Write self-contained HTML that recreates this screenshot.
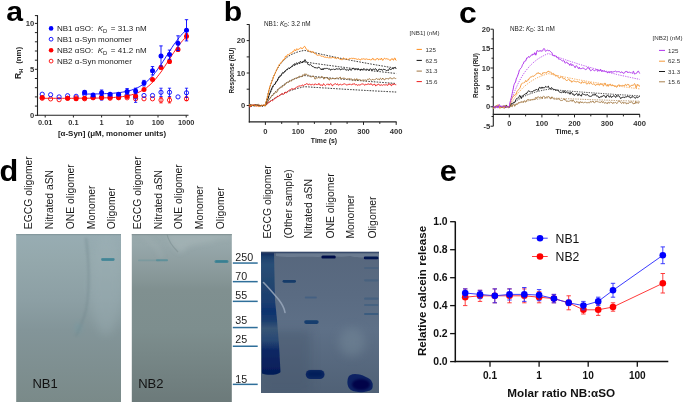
<!DOCTYPE html>
<html><head><meta charset="utf-8"><style>
html,body{margin:0;padding:0;background:#fff;}
body{width:685px;height:402px;overflow:hidden;}
svg{display:block;font-family:"Liberation Sans", sans-serif;filter:blur(0.25px);}
</style></head><body>
<svg width="685" height="402" viewBox="0 0 685 402">
<rect width="685" height="402" fill="#fff"/>
<text transform="translate(6.2,20.8) scale(1.06,1)" font-size="28.5" font-weight="bold" fill="#000">a</text>
<line x1="37.5" y1="15.1" x2="37.5" y2="115.8" stroke="#222" stroke-width="1.1" />
<line x1="37" y1="115.3" x2="188.5" y2="115.3" stroke="#222" stroke-width="1.1" />
<line x1="34.9" y1="115.3" x2="37.5" y2="115.3" stroke="#222" stroke-width="1" />
<line x1="34.9" y1="106.1" x2="37.5" y2="106.1" stroke="#222" stroke-width="1" />
<line x1="34.9" y1="96.9" x2="37.5" y2="96.9" stroke="#222" stroke-width="1" />
<line x1="34.9" y1="87.7" x2="37.5" y2="87.7" stroke="#222" stroke-width="1" />
<line x1="34.9" y1="78.5" x2="37.5" y2="78.5" stroke="#222" stroke-width="1" />
<line x1="34.9" y1="69.3" x2="37.5" y2="69.3" stroke="#222" stroke-width="1" />
<line x1="34.9" y1="60.2" x2="37.5" y2="60.2" stroke="#222" stroke-width="1" />
<line x1="34.9" y1="51" x2="37.5" y2="51" stroke="#222" stroke-width="1" />
<line x1="34.9" y1="41.8" x2="37.5" y2="41.8" stroke="#222" stroke-width="1" />
<line x1="34.9" y1="32.6" x2="37.5" y2="32.6" stroke="#222" stroke-width="1" />
<line x1="34.9" y1="23.4" x2="37.5" y2="23.4" stroke="#222" stroke-width="1" />
<line x1="34.9" y1="15.6" x2="37.5" y2="15.6" stroke="#222" stroke-width="1" />
<text x="34.3" y="117.9" font-size="7.6" font-weight="bold" text-anchor="end" fill="#333" >0</text>
<text x="34.3" y="71.9" font-size="7.6" font-weight="bold" text-anchor="end" fill="#333" >5</text>
<text x="34.3" y="26" font-size="7.6" font-weight="bold" text-anchor="end" fill="#333" >10</text>
<line x1="45.2" y1="115.3" x2="45.2" y2="117.5" stroke="#222" stroke-width="1" />
<text x="45.2" y="124.9" font-size="7.4" font-weight="bold" text-anchor="middle" fill="#333" >0.01</text>
<line x1="73.4" y1="115.3" x2="73.4" y2="117.5" stroke="#222" stroke-width="1" />
<text x="73.4" y="124.9" font-size="7.4" font-weight="bold" text-anchor="middle" fill="#333" >0.1</text>
<line x1="101.6" y1="115.3" x2="101.6" y2="117.5" stroke="#222" stroke-width="1" />
<text x="101.6" y="124.9" font-size="7.4" font-weight="bold" text-anchor="middle" fill="#333" >1</text>
<line x1="129.8" y1="115.3" x2="129.8" y2="117.5" stroke="#222" stroke-width="1" />
<text x="129.8" y="124.9" font-size="7.4" font-weight="bold" text-anchor="middle" fill="#333" >10</text>
<line x1="158" y1="115.3" x2="158" y2="117.5" stroke="#222" stroke-width="1" />
<text x="158" y="124.9" font-size="7.4" font-weight="bold" text-anchor="middle" fill="#333" >100</text>
<line x1="186.2" y1="115.3" x2="186.2" y2="117.5" stroke="#222" stroke-width="1" />
<text x="186.2" y="124.9" font-size="7.4" font-weight="bold" text-anchor="middle" fill="#333" >1000</text>
<text x="112" y="135.6" font-size="7.95" font-weight="bold" text-anchor="middle" fill="#222" >[α-Syn] (μM, monomer units)</text>
<text transform="translate(21.2,79) rotate(-90)" font-size="8.6" font-weight="bold" fill="#222">R<tspan font-size="5.4" dy="1.4">H</tspan></text>
<text transform="translate(21.2,63.8) rotate(-90)" font-size="7.9" font-weight="bold" fill="#222" textLength="17" lengthAdjust="spacingAndGlyphs">(nm)</text>
<polyline points="42.5,98.3 44.3,98.3 46.1,98.3 47.9,98.3 49.8,98.3 51.6,98.3 53.4,98.3 55.2,98.3 57.1,98.3 58.9,98.3 60.7,98.3 62.5,98.3 64.3,98.3 66.2,98.3 68,98.3 69.8,98.3 71.6,98.3 73.5,98.3 75.3,98.3 77.1,98.3 78.9,98.2 80.8,98.2 82.6,98.2 84.4,98.2 86.2,98.2 88,98.2 89.9,98.2 91.7,98.2 93.5,98.1 95.3,98.1 97.2,98.1 99,98 100.8,98 102.6,98 104.5,97.9 106.3,97.8 108.1,97.8 109.9,97.7 111.7,97.6 113.6,97.5 115.4,97.3 117.2,97.2 119,97 120.9,96.8 122.7,96.6 124.5,96.3 126.3,96 128.2,95.6 130,95.2 131.8,94.8 133.6,94.2 135.4,93.6 137.3,92.9 139.1,92.1 140.9,91.2 142.7,90.2 144.6,89 146.4,87.8 148.2,86.3 150,84.8 151.9,83 153.7,81.1 155.5,79.1 157.3,76.8 159.1,74.5 161,72 162.8,69.3 164.6,66.6 166.4,63.8 168.3,61 170.1,58.2 171.9,55.3 173.7,52.6 175.6,49.9 177.4,47.3 179.2,44.8 181,42.5 182.8,40.4 184.7,38.4 186.5,36.5" fill="none" stroke="#ff0000" stroke-width="0.9" stroke-linejoin="round" />
<polyline points="82.6,94.1 84.4,94.1 86.2,94.1 88,94 89.9,94 91.7,94 93.5,94 95.3,93.9 97.2,93.9 99,93.9 100.8,93.8 102.6,93.8 104.5,93.7 106.3,93.6 108.1,93.5 109.9,93.4 111.7,93.3 113.6,93.2 115.4,93 117.2,92.8 119,92.6 120.9,92.4 122.7,92.1 124.5,91.8 126.3,91.4 128.2,91 130,90.5 131.8,90 133.6,89.3 135.4,88.6 137.3,87.8 139.1,86.9 140.9,85.8 142.7,84.7 144.6,83.4 146.4,81.9 148.2,80.3 150,78.5 151.9,76.6 153.7,74.5 155.5,72.2 157.3,69.8 159.1,67.2 161,64.6 162.8,61.8 164.6,59 166.4,56.1 168.3,53.3 170.1,50.4 171.9,47.6 173.7,44.9 175.6,42.3 177.4,39.9 179.2,37.5 181,35.4 182.8,33.4 184.7,31.5 186.5,29.8" fill="none" stroke="#0000ff" stroke-width="0.9" stroke-linejoin="round" />
<circle cx="42.2" cy="98.3" r="2.1" fill="none" stroke="#ff0000" stroke-width="0.9"/>
<circle cx="50.6" cy="98.9" r="2.1" fill="none" stroke="#ff0000" stroke-width="0.9"/>
<circle cx="59.1" cy="99.7" r="2.1" fill="none" stroke="#ff0000" stroke-width="0.9"/>
<circle cx="67.6" cy="98.3" r="2.1" fill="none" stroke="#ff0000" stroke-width="0.9"/>
<circle cx="76.1" cy="97.8" r="2.1" fill="none" stroke="#ff0000" stroke-width="0.9"/>
<circle cx="84.6" cy="98.8" r="2.1" fill="none" stroke="#ff0000" stroke-width="0.9"/>
<circle cx="93.1" cy="97.8" r="2.1" fill="none" stroke="#ff0000" stroke-width="0.9"/>
<circle cx="101.6" cy="96.9" r="2.1" fill="none" stroke="#ff0000" stroke-width="0.9"/>
<circle cx="110.1" cy="98.3" r="2.1" fill="none" stroke="#ff0000" stroke-width="0.9"/>
<circle cx="118.6" cy="97.8" r="2.1" fill="none" stroke="#ff0000" stroke-width="0.9"/>
<circle cx="127.1" cy="97.8" r="2.1" fill="none" stroke="#ff0000" stroke-width="0.9"/>
<circle cx="135.6" cy="98.8" r="2.1" fill="none" stroke="#ff0000" stroke-width="0.9"/>
<circle cx="144" cy="98.8" r="2.1" fill="none" stroke="#ff0000" stroke-width="0.9"/>
<circle cx="152.5" cy="98.8" r="2.1" fill="none" stroke="#ff0000" stroke-width="0.9"/>
<line x1="161" y1="102.9" x2="161" y2="97.4" stroke="#ff0000" stroke-width="0.8" />
<line x1="159.4" y1="102.9" x2="162.6" y2="102.9" stroke="#ff0000" stroke-width="0.8" />
<line x1="159.4" y1="97.4" x2="162.6" y2="97.4" stroke="#ff0000" stroke-width="0.8" />
<circle cx="161" cy="100.1" r="2.1" fill="none" stroke="#ff0000" stroke-width="0.9"/>
<line x1="169.5" y1="102.9" x2="169.5" y2="97.4" stroke="#ff0000" stroke-width="0.8" />
<line x1="167.9" y1="102.9" x2="171.1" y2="102.9" stroke="#ff0000" stroke-width="0.8" />
<line x1="167.9" y1="97.4" x2="171.1" y2="97.4" stroke="#ff0000" stroke-width="0.8" />
<circle cx="169.5" cy="100.1" r="2.1" fill="none" stroke="#ff0000" stroke-width="0.9"/>
<line x1="186.5" y1="100.6" x2="186.5" y2="96.9" stroke="#ff0000" stroke-width="0.8" />
<line x1="184.9" y1="100.6" x2="188.1" y2="100.6" stroke="#ff0000" stroke-width="0.8" />
<line x1="184.9" y1="96.9" x2="188.1" y2="96.9" stroke="#ff0000" stroke-width="0.8" />
<circle cx="186.5" cy="98.8" r="2.1" fill="none" stroke="#ff0000" stroke-width="0.9"/>
<circle cx="42.2" cy="94.2" r="2.1" fill="none" stroke="#0000ff" stroke-width="0.9"/>
<circle cx="50.6" cy="94.7" r="2.1" fill="none" stroke="#0000ff" stroke-width="0.9"/>
<circle cx="59.1" cy="96.9" r="2.1" fill="none" stroke="#0000ff" stroke-width="0.9"/>
<circle cx="67.6" cy="95.7" r="2.1" fill="none" stroke="#0000ff" stroke-width="0.9"/>
<circle cx="76.1" cy="96.3" r="2.1" fill="none" stroke="#0000ff" stroke-width="0.9"/>
<circle cx="84.6" cy="94.2" r="2.1" fill="none" stroke="#0000ff" stroke-width="0.9"/>
<circle cx="93.1" cy="96.9" r="2.1" fill="none" stroke="#0000ff" stroke-width="0.9"/>
<line x1="101.6" y1="100.1" x2="101.6" y2="94.6" stroke="#0000ff" stroke-width="0.8" />
<line x1="100" y1="100.1" x2="103.2" y2="100.1" stroke="#0000ff" stroke-width="0.8" />
<line x1="100" y1="94.6" x2="103.2" y2="94.6" stroke="#0000ff" stroke-width="0.8" />
<circle cx="101.6" cy="97.4" r="2.1" fill="none" stroke="#0000ff" stroke-width="0.9"/>
<circle cx="110.1" cy="96" r="2.1" fill="none" stroke="#0000ff" stroke-width="0.9"/>
<circle cx="118.6" cy="95.1" r="2.1" fill="none" stroke="#0000ff" stroke-width="0.9"/>
<circle cx="127.1" cy="95.1" r="2.1" fill="none" stroke="#0000ff" stroke-width="0.9"/>
<line x1="135.6" y1="102.4" x2="135.6" y2="91.4" stroke="#0000ff" stroke-width="0.8" />
<line x1="134" y1="102.4" x2="137.2" y2="102.4" stroke="#0000ff" stroke-width="0.8" />
<line x1="134" y1="91.4" x2="137.2" y2="91.4" stroke="#0000ff" stroke-width="0.8" />
<circle cx="135.6" cy="96.9" r="2.1" fill="none" stroke="#0000ff" stroke-width="0.9"/>
<circle cx="144" cy="95.5" r="2.1" fill="none" stroke="#0000ff" stroke-width="0.9"/>
<circle cx="152.5" cy="95.5" r="2.1" fill="none" stroke="#0000ff" stroke-width="0.9"/>
<line x1="161" y1="96.5" x2="161" y2="88.2" stroke="#0000ff" stroke-width="0.8" />
<line x1="159.4" y1="96.5" x2="162.6" y2="96.5" stroke="#0000ff" stroke-width="0.8" />
<line x1="159.4" y1="88.2" x2="162.6" y2="88.2" stroke="#0000ff" stroke-width="0.8" />
<circle cx="161" cy="92.3" r="2.1" fill="none" stroke="#0000ff" stroke-width="0.9"/>
<line x1="169.5" y1="96.5" x2="169.5" y2="88.2" stroke="#0000ff" stroke-width="0.8" />
<line x1="167.9" y1="96.5" x2="171.1" y2="96.5" stroke="#0000ff" stroke-width="0.8" />
<line x1="167.9" y1="88.2" x2="171.1" y2="88.2" stroke="#0000ff" stroke-width="0.8" />
<circle cx="169.5" cy="92.3" r="2.1" fill="none" stroke="#0000ff" stroke-width="0.9"/>
<circle cx="178" cy="96.9" r="2.1" fill="none" stroke="#0000ff" stroke-width="0.9"/>
<line x1="186.5" y1="97.4" x2="186.5" y2="88.2" stroke="#0000ff" stroke-width="0.8" />
<line x1="184.9" y1="97.4" x2="188.1" y2="97.4" stroke="#0000ff" stroke-width="0.8" />
<line x1="184.9" y1="88.2" x2="188.1" y2="88.2" stroke="#0000ff" stroke-width="0.8" />
<circle cx="186.5" cy="92.8" r="2.1" fill="none" stroke="#0000ff" stroke-width="0.9"/>
<circle cx="42.2" cy="97.4" r="2.5" fill="#ff0000"/>
<circle cx="67.6" cy="98.3" r="2.5" fill="#ff0000"/>
<circle cx="76.1" cy="98.8" r="2.5" fill="#ff0000"/>
<circle cx="84.6" cy="98.3" r="2.5" fill="#ff0000"/>
<circle cx="93.1" cy="97.4" r="2.5" fill="#ff0000"/>
<circle cx="101.6" cy="97.8" r="2.5" fill="#ff0000"/>
<circle cx="110.1" cy="97.4" r="2.5" fill="#ff0000"/>
<circle cx="118.6" cy="97.4" r="2.5" fill="#ff0000"/>
<circle cx="127.1" cy="96.5" r="2.5" fill="#ff0000"/>
<circle cx="135.6" cy="96" r="2.5" fill="#ff0000"/>
<circle cx="144" cy="89.6" r="2.5" fill="#ff0000"/>
<circle cx="152.5" cy="79.5" r="2.5" fill="#ff0000"/>
<line x1="161" y1="68.9" x2="161" y2="66.1" stroke="#ff0000" stroke-width="0.8" />
<line x1="159.4" y1="68.9" x2="162.6" y2="68.9" stroke="#ff0000" stroke-width="0.8" />
<line x1="159.4" y1="66.1" x2="162.6" y2="66.1" stroke="#ff0000" stroke-width="0.8" />
<circle cx="161" cy="67.5" r="2.5" fill="#ff0000"/>
<line x1="169.5" y1="63.4" x2="169.5" y2="59.7" stroke="#ff0000" stroke-width="0.8" />
<line x1="167.9" y1="63.4" x2="171.1" y2="63.4" stroke="#ff0000" stroke-width="0.8" />
<line x1="167.9" y1="59.7" x2="171.1" y2="59.7" stroke="#ff0000" stroke-width="0.8" />
<circle cx="169.5" cy="61.5" r="2.5" fill="#ff0000"/>
<line x1="178" y1="51.4" x2="178" y2="47.8" stroke="#ff0000" stroke-width="0.8" />
<line x1="176.4" y1="51.4" x2="179.6" y2="51.4" stroke="#ff0000" stroke-width="0.8" />
<line x1="176.4" y1="47.8" x2="179.6" y2="47.8" stroke="#ff0000" stroke-width="0.8" />
<circle cx="178" cy="49.6" r="2.5" fill="#ff0000"/>
<line x1="186.5" y1="39" x2="186.5" y2="33.5" stroke="#ff0000" stroke-width="0.8" />
<line x1="184.9" y1="39" x2="188.1" y2="39" stroke="#ff0000" stroke-width="0.8" />
<line x1="184.9" y1="33.5" x2="188.1" y2="33.5" stroke="#ff0000" stroke-width="0.8" />
<circle cx="186.5" cy="36.3" r="2.5" fill="#ff0000"/>
<line x1="84.6" y1="94.2" x2="84.6" y2="90.5" stroke="#0000ff" stroke-width="0.9" />
<line x1="82.9" y1="94.2" x2="86.3" y2="94.2" stroke="#0000ff" stroke-width="0.9" />
<line x1="82.9" y1="90.5" x2="86.3" y2="90.5" stroke="#0000ff" stroke-width="0.9" />
<circle cx="84.6" cy="92.3" r="2.5" fill="#0000ff"/>
<circle cx="93.1" cy="95.1" r="2.5" fill="#0000ff"/>
<line x1="101.6" y1="95.5" x2="101.6" y2="90" stroke="#0000ff" stroke-width="0.9" />
<line x1="99.9" y1="95.5" x2="103.3" y2="95.5" stroke="#0000ff" stroke-width="0.9" />
<line x1="99.9" y1="90" x2="103.3" y2="90" stroke="#0000ff" stroke-width="0.9" />
<circle cx="101.6" cy="92.8" r="2.5" fill="#0000ff"/>
<circle cx="110.1" cy="94.2" r="2.5" fill="#0000ff"/>
<circle cx="118.6" cy="94.2" r="2.5" fill="#0000ff"/>
<line x1="127.1" y1="94.2" x2="127.1" y2="88.6" stroke="#0000ff" stroke-width="0.9" />
<line x1="125.4" y1="94.2" x2="128.8" y2="94.2" stroke="#0000ff" stroke-width="0.9" />
<line x1="125.4" y1="88.6" x2="128.8" y2="88.6" stroke="#0000ff" stroke-width="0.9" />
<circle cx="127.1" cy="91.4" r="2.5" fill="#0000ff"/>
<line x1="135.6" y1="93.7" x2="135.6" y2="88.2" stroke="#0000ff" stroke-width="0.9" />
<line x1="133.9" y1="93.7" x2="137.3" y2="93.7" stroke="#0000ff" stroke-width="0.9" />
<line x1="133.9" y1="88.2" x2="137.3" y2="88.2" stroke="#0000ff" stroke-width="0.9" />
<circle cx="135.6" cy="90.9" r="2.5" fill="#0000ff"/>
<line x1="144" y1="85.9" x2="144" y2="80.4" stroke="#0000ff" stroke-width="0.9" />
<line x1="142.3" y1="85.9" x2="145.7" y2="85.9" stroke="#0000ff" stroke-width="0.9" />
<line x1="142.3" y1="80.4" x2="145.7" y2="80.4" stroke="#0000ff" stroke-width="0.9" />
<circle cx="144" cy="83.1" r="2.5" fill="#0000ff"/>
<line x1="152.5" y1="74.9" x2="152.5" y2="66.6" stroke="#0000ff" stroke-width="0.9" />
<line x1="150.8" y1="74.9" x2="154.2" y2="74.9" stroke="#0000ff" stroke-width="0.9" />
<line x1="150.8" y1="66.6" x2="154.2" y2="66.6" stroke="#0000ff" stroke-width="0.9" />
<circle cx="152.5" cy="70.7" r="2.5" fill="#0000ff"/>
<line x1="161" y1="66.1" x2="161" y2="45.9" stroke="#0000ff" stroke-width="0.9" />
<line x1="159.3" y1="66.1" x2="162.7" y2="66.1" stroke="#0000ff" stroke-width="0.9" />
<line x1="159.3" y1="45.9" x2="162.7" y2="45.9" stroke="#0000ff" stroke-width="0.9" />
<circle cx="161" cy="56" r="2.5" fill="#0000ff"/>
<line x1="169.5" y1="59.2" x2="169.5" y2="50.1" stroke="#0000ff" stroke-width="0.9" />
<line x1="167.8" y1="59.2" x2="171.2" y2="59.2" stroke="#0000ff" stroke-width="0.9" />
<line x1="167.8" y1="50.1" x2="171.2" y2="50.1" stroke="#0000ff" stroke-width="0.9" />
<circle cx="169.5" cy="54.6" r="2.5" fill="#0000ff"/>
<line x1="178" y1="50.5" x2="178" y2="35.8" stroke="#0000ff" stroke-width="0.9" />
<line x1="176.3" y1="50.5" x2="179.7" y2="50.5" stroke="#0000ff" stroke-width="0.9" />
<line x1="176.3" y1="35.8" x2="179.7" y2="35.8" stroke="#0000ff" stroke-width="0.9" />
<circle cx="178" cy="43.2" r="2.5" fill="#0000ff"/>
<line x1="186.5" y1="40.9" x2="186.5" y2="19.7" stroke="#0000ff" stroke-width="0.9" />
<line x1="184.8" y1="40.9" x2="188.2" y2="40.9" stroke="#0000ff" stroke-width="0.9" />
<line x1="184.8" y1="19.7" x2="188.2" y2="19.7" stroke="#0000ff" stroke-width="0.9" />
<circle cx="186.5" cy="30.3" r="2.5" fill="#0000ff"/>
<circle cx="51.1" cy="28.4" r="2.3" fill="#0000ff"/>
<circle cx="51.1" cy="39.2" r="1.9" fill="none" stroke="#0000ff" stroke-width="0.9"/>
<circle cx="51.1" cy="50.2" r="2.3" fill="#ff0000"/>
<circle cx="51.1" cy="61.1" r="1.9" fill="none" stroke="#ff0000" stroke-width="0.9"/>
<text x="57" y="31.3" font-size="8.0" font-weight="normal" text-anchor="start" fill="#222" >NB1 αSO: <tspan dx="2.3" font-style="italic">K</tspan><tspan font-size="5.8" dy="1.6">D</tspan><tspan dy="-1.6" dx="3.6">= 31.3 nM</tspan></text>
<text x="57" y="42.1" font-size="8.0" font-weight="normal" text-anchor="start" fill="#222" >NB1 α-Syn monomer</text>
<text x="57" y="53.1" font-size="8.0" font-weight="normal" text-anchor="start" fill="#222" >NB2 αSO: <tspan dx="2.3" font-style="italic">K</tspan><tspan font-size="5.8" dy="1.6">D</tspan><tspan dy="-1.6" dx="3.6">= 41.2 nM</tspan></text>
<text x="57" y="64" font-size="8.0" font-weight="normal" text-anchor="start" fill="#222" >NB2 α-Syn monomer</text>
<text transform="translate(223.8,21.0) scale(1.06,1)" font-size="28.5" font-weight="bold" fill="#000">b</text>
<line x1="249.3" y1="24.3" x2="249.3" y2="122.4" stroke="#222" stroke-width="1.1" />
<line x1="248.8" y1="121.9" x2="396.6" y2="121.9" stroke="#222" stroke-width="1.1" />
<line x1="246.7" y1="105.5" x2="249.3" y2="105.5" stroke="#222" stroke-width="1" />
<line x1="246.7" y1="89.2" x2="249.3" y2="89.2" stroke="#222" stroke-width="1" />
<line x1="246.7" y1="73" x2="249.3" y2="73" stroke="#222" stroke-width="1" />
<line x1="246.7" y1="56.9" x2="249.3" y2="56.9" stroke="#222" stroke-width="1" />
<line x1="246.7" y1="40.6" x2="249.3" y2="40.6" stroke="#222" stroke-width="1" />
<line x1="246.7" y1="24.5" x2="249.3" y2="24.5" stroke="#222" stroke-width="1" />
<text x="245.2" y="108" font-size="7.6" font-weight="bold" text-anchor="end" fill="#333" >0</text>
<text x="245.2" y="75.6" font-size="7.6" font-weight="bold" text-anchor="end" fill="#333" >10</text>
<text x="245.2" y="43.2" font-size="7.6" font-weight="bold" text-anchor="end" fill="#333" >20</text>
<line x1="265.4" y1="121.9" x2="265.4" y2="124.9" stroke="#222" stroke-width="1" />
<line x1="281.7" y1="121.9" x2="281.7" y2="123.9" stroke="#222" stroke-width="1" />
<line x1="298.1" y1="121.9" x2="298.1" y2="124.9" stroke="#222" stroke-width="1" />
<line x1="314.4" y1="121.9" x2="314.4" y2="123.9" stroke="#222" stroke-width="1" />
<line x1="330.8" y1="121.9" x2="330.8" y2="124.9" stroke="#222" stroke-width="1" />
<line x1="347.1" y1="121.9" x2="347.1" y2="123.9" stroke="#222" stroke-width="1" />
<line x1="363.5" y1="121.9" x2="363.5" y2="124.9" stroke="#222" stroke-width="1" />
<line x1="379.8" y1="121.9" x2="379.8" y2="123.9" stroke="#222" stroke-width="1" />
<line x1="396.2" y1="121.9" x2="396.2" y2="124.9" stroke="#222" stroke-width="1" />
<text x="265.4" y="133.9" font-size="7.6" font-weight="bold" text-anchor="middle" fill="#333" >0</text>
<text x="298.1" y="133.9" font-size="7.6" font-weight="bold" text-anchor="middle" fill="#333" >100</text>
<text x="330.8" y="133.9" font-size="7.6" font-weight="bold" text-anchor="middle" fill="#333" >200</text>
<text x="363.5" y="133.9" font-size="7.6" font-weight="bold" text-anchor="middle" fill="#333" >300</text>
<text x="396.2" y="133.9" font-size="7.6" font-weight="bold" text-anchor="middle" fill="#333" >400</text>
<text x="324" y="142.6" font-size="6.9" font-weight="bold" text-anchor="middle" fill="#222" >Time  (s)</text>
<text transform="translate(234.1,70.6) rotate(-90)" font-size="6.9" font-weight="bold" text-anchor="middle" fill="#222" textLength="46" lengthAdjust="spacingAndGlyphs">Response (RU)</text>
<text x="264" y="26.1" font-size="6.4" font-weight="normal" text-anchor="start" fill="#222" >NB1: <tspan font-style="italic">K</tspan><tspan font-size="4.6" dy="1.2">D</tspan><tspan dy="-1.2">: 3.2 nM</tspan></text>
<text x="409.6" y="35.1" font-size="6.2" font-weight="normal" text-anchor="start" fill="#333" >[NB1] (nM)</text>
<line x1="416.6" y1="49.4" x2="421.9" y2="49.4" stroke="#ff8c1a" stroke-width="1" />
<text x="425.5" y="51.6" font-size="6.2" font-weight="normal" text-anchor="start" fill="#333" >125</text>
<line x1="416.6" y1="60.4" x2="421.9" y2="60.4" stroke="#111111" stroke-width="1" />
<text x="425.5" y="62.6" font-size="6.2" font-weight="normal" text-anchor="start" fill="#333" >62.5</text>
<line x1="416.6" y1="71.1" x2="421.9" y2="71.1" stroke="#a07540" stroke-width="1" />
<text x="425.5" y="73.3" font-size="6.2" font-weight="normal" text-anchor="start" fill="#333" >31.3</text>
<line x1="416.6" y1="81.6" x2="421.9" y2="81.6" stroke="#f01c1c" stroke-width="1" />
<text x="425.5" y="83.8" font-size="6.2" font-weight="normal" text-anchor="start" fill="#333" >15.6</text>
<polyline points="265.4,105.5 266.7,99.4 268,94 269.3,89.2 270.6,84.9 271.9,81 273.2,77.5 274.5,74.5 275.8,71.7 277.1,69.2 278.4,67 279.7,65.1 281,63.3 282.4,61.7 283.7,60.3 285,59.1 286.3,57.9 287.6,56.9 288.9,56 290.2,55.2 291.5,54.5 292.8,53.9 294.1,53.3 295.4,52.8 296.7,52.3 298.1,51.9 299.4,51.5 300.7,51.2 302,50.9 303.3,50.6 304.6,50.4 305.9,50.7 307.2,51 308.5,51.3 309.8,51.6 311.1,51.9 312.4,52.2 313.7,52.5 315.1,52.8 316.4,53.1 317.7,53.4 319,53.7 320.3,54 321.6,54.3 322.9,54.6 324.2,54.8 325.5,55.1 326.8,55.4 328.1,55.7 329.4,56 330.8,56.2 332.1,56.5 333.4,56.8 334.7,57.1 336,57.3 337.3,57.6 338.6,57.9 339.9,58.1 341.2,58.4 342.5,58.7 343.8,58.9 345.1,59.2 346.4,59.4 347.8,59.7 349.1,59.9 350.4,60.2 351.7,60.5 353,60.7 354.3,61 355.6,61.2 356.9,61.5 358.2,61.7 359.5,61.9 360.8,62.2 362.1,62.4 363.5,62.7 364.8,62.9 366.1,63.1 367.4,63.4 368.7,63.6 370,63.8 371.3,64.1 372.6,64.3 373.9,64.5 375.2,64.8 376.5,65 377.8,65.2 379.1,65.4 380.5,65.7 381.8,65.9 383.1,66.1 384.4,66.3 385.7,66.6 387,66.8 388.3,67 389.6,67.2 390.9,67.4 392.2,67.6 393.5,67.8 394.8,68 396.2,68.3" fill="none" stroke="#111" stroke-width="0.85" stroke-linejoin="round" stroke-dasharray="1.6,1.2"/>
<polyline points="265.4,105.5 266.7,101.6 268,98.1 269.3,94.9 270.6,92 271.9,89.2 273.2,86.7 274.5,84.4 275.8,82.3 277.1,80.4 278.4,78.6 279.7,76.9 281,75.4 282.4,74 283.7,72.7 285,71.6 286.3,70.5 287.6,69.5 288.9,68.6 290.2,67.7 291.5,67 292.8,66.3 294.1,65.6 295.4,65 296.7,64.4 298.1,63.9 299.4,63.5 300.7,63 302,62.6 303.3,62.3 304.6,62 305.9,62.1 307.2,62.3 308.5,62.5 309.8,62.7 311.1,62.9 312.4,63.1 313.7,63.3 315.1,63.5 316.4,63.6 317.7,63.8 319,64 320.3,64.2 321.6,64.4 322.9,64.6 324.2,64.7 325.5,64.9 326.8,65.1 328.1,65.3 329.4,65.4 330.8,65.6 332.1,65.8 333.4,66 334.7,66.1 336,66.3 337.3,66.5 338.6,66.7 339.9,66.8 341.2,67 342.5,67.2 343.8,67.3 345.1,67.5 346.4,67.7 347.8,67.8 349.1,68 350.4,68.2 351.7,68.3 353,68.5 354.3,68.6 355.6,68.8 356.9,69 358.2,69.1 359.5,69.3 360.8,69.5 362.1,69.6 363.5,69.8 364.8,69.9 366.1,70.1 367.4,70.2 368.7,70.4 370,70.5 371.3,70.7 372.6,70.8 373.9,71 375.2,71.2 376.5,71.3 377.8,71.5 379.1,71.6 380.5,71.7 381.8,71.9 383.1,72 384.4,72.2 385.7,72.3 387,72.5 388.3,72.6 389.6,72.8 390.9,72.9 392.2,73.1 393.5,73.2 394.8,73.3 396.2,73.5" fill="none" stroke="#111" stroke-width="0.85" stroke-linejoin="round" stroke-dasharray="1.6,1.2"/>
<polyline points="265.4,105.5 266.7,103.3 268,101.2 269.3,99.3 270.6,97.5 271.9,95.9 273.2,94.3 274.5,92.8 275.8,91.4 277.1,90.1 278.4,88.9 279.7,87.8 281,86.7 282.4,85.7 283.7,84.7 285,83.9 286.3,83 287.6,82.2 288.9,81.5 290.2,80.8 291.5,80.2 292.8,79.6 294.1,79 295.4,78.5 296.7,78 298.1,77.5 299.4,77.1 300.7,76.7 302,76.3 303.3,75.9 304.6,75.6 305.9,75.7 307.2,75.8 308.5,76 309.8,76.1 311.1,76.2 312.4,76.4 313.7,76.5 315.1,76.6 316.4,76.7 317.7,76.9 319,77 320.3,77.1 321.6,77.2 322.9,77.4 324.2,77.5 325.5,77.6 326.8,77.7 328.1,77.9 329.4,78 330.8,78.1 332.1,78.2 333.4,78.3 334.7,78.5 336,78.6 337.3,78.7 338.6,78.8 339.9,78.9 341.2,79 342.5,79.2 343.8,79.3 345.1,79.4 346.4,79.5 347.8,79.6 349.1,79.7 350.4,79.9 351.7,80 353,80.1 354.3,80.2 355.6,80.3 356.9,80.4 358.2,80.5 359.5,80.6 360.8,80.7 362.1,80.8 363.5,81 364.8,81.1 366.1,81.2 367.4,81.3 368.7,81.4 370,81.5 371.3,81.6 372.6,81.7 373.9,81.8 375.2,81.9 376.5,82 377.8,82.1 379.1,82.2 380.5,82.3 381.8,82.4 383.1,82.5 384.4,82.6 385.7,82.7 387,82.8 388.3,82.9 389.6,83 390.9,83.1 392.2,83.2 393.5,83.3 394.8,83.4 396.2,83.5" fill="none" stroke="#111" stroke-width="0.85" stroke-linejoin="round" stroke-dasharray="1.6,1.2"/>
<polyline points="265.4,105.5 266.7,104.3 268,103.2 269.3,102.1 270.6,101.1 271.9,100.2 273.2,99.3 274.5,98.4 275.8,97.6 277.1,96.8 278.4,96.1 279.7,95.3 281,94.7 282.4,94 283.7,93.4 285,92.8 286.3,92.3 287.6,91.7 288.9,91.2 290.2,90.7 291.5,90.3 292.8,89.8 294.1,89.4 295.4,89 296.7,88.6 298.1,88.2 299.4,87.9 300.7,87.6 302,87.2 303.3,86.9 304.6,86.7 305.9,86.8 307.2,86.8 308.5,86.9 309.8,87 311.1,87.1 312.4,87.2 313.7,87.3 315.1,87.4 316.4,87.5 317.7,87.5 319,87.6 320.3,87.7 321.6,87.8 322.9,87.9 324.2,88 325.5,88 326.8,88.1 328.1,88.2 329.4,88.3 330.8,88.4 332.1,88.5 333.4,88.5 334.7,88.6 336,88.7 337.3,88.8 338.6,88.9 339.9,88.9 341.2,89 342.5,89.1 343.8,89.2 345.1,89.3 346.4,89.3 347.8,89.4 349.1,89.5 350.4,89.6 351.7,89.6 353,89.7 354.3,89.8 355.6,89.9 356.9,89.9 358.2,90 359.5,90.1 360.8,90.2 362.1,90.2 363.5,90.3 364.8,90.4 366.1,90.5 367.4,90.5 368.7,90.6 370,90.7 371.3,90.7 372.6,90.8 373.9,90.9 375.2,91 376.5,91 377.8,91.1 379.1,91.2 380.5,91.2 381.8,91.3 383.1,91.4 384.4,91.4 385.7,91.5 387,91.6 388.3,91.6 389.6,91.7 390.9,91.8 392.2,91.8 393.5,91.9 394.8,92 396.2,92" fill="none" stroke="#111" stroke-width="0.85" stroke-linejoin="round" stroke-dasharray="1.6,1.2"/>
<polyline points="249,105.5 249.4,106 249.8,107.1 250.2,107 250.6,106 251,105.1 251.5,105 251.9,105 252.3,105.2 252.7,104.8 253.1,105 253.5,104.9 253.9,104.8 254.3,104.4 254.7,104.7 255.1,105.6 255.5,105.5 255.9,106 256.4,106.3 256.8,105.8 257.2,105 257.6,105 258,105.4 258.4,105.3 258.8,105.2 259.2,105.1 259.6,105.7 260,105.7 260.4,105.9 260.9,105.3 261.3,105.4 261.7,105.5 262.1,105.8 262.5,106 262.9,105.6 263.3,105.4 263.7,105 264.1,105.5 264.5,105.2 264.9,105.2 265.4,104.7 265.8,104.5 266.2,104.4 266.6,104.5 267,104.4 267.4,103.8 267.8,103.1 268.2,102.3 268.6,101.9 269,102.2 269.4,102.3 269.8,102 270.3,101.1 270.7,100.9 271.1,100.7 271.5,100.5 271.9,100.5 272.3,100.8 272.7,100.5 273.1,100 273.5,99.9 273.9,99.5 274.3,98.6 274.8,98.1 275.2,98.1 275.6,98 276,97.9 276.4,97.8 276.8,97.3 277.2,96.5 277.6,96.2 278,96.2 278.4,96.3 278.8,96.3 279.2,96.1 279.7,95.4 280.1,95 280.5,94.8 280.9,94.8 281.3,94.1 281.7,93.6 282.1,93.4 282.5,94.1 282.9,94.5 283.3,94.4 283.7,94.1 284.2,93.8 284.6,92.8 285,92.1 285.4,92 285.8,92.7 286.2,92.8 286.6,92.8 287,92 287.4,91.6 287.8,91.2 288.2,91.1 288.6,90.8 289.1,90.4 289.5,89.9 289.9,89.8 290.3,89.9 290.7,89.7 291.1,89 291.5,88.8 291.9,88.5 292.3,88.7 292.7,88.8 293.1,89.4 293.6,89 294,88.8 294.4,88.7 294.8,88.6 295.2,88.1 295.6,88 296,87.8 296.4,87.4 296.8,86.9 297.2,87 297.6,86.7 298.1,86.5 298.5,86.1 298.9,85.8 299.3,85.9 299.7,86 300.1,86.3 300.5,85.8 300.9,85.6 301.3,85.7 301.7,85.8 302.1,85.2 302.5,85 303,85.4 303.4,85.7 303.8,85.2 304.2,84.8 304.6,84.7 305,84.4 305.4,84.5 305.8,84.4 306.2,83.8 306.6,83.7 307,83.6 307.5,84 307.9,84.1 308.3,84.7 308.7,84.8 309.1,84.6 309.5,83.8 309.9,84.2 310.3,84.6 310.7,84.8 311.1,84.6 311.5,84.8 311.9,84.5 312.4,84 312.8,84.3 313.2,84.7 313.6,85.1 314,85.2 314.4,84.9 314.8,84.1 315.2,83.7 315.6,84.2 316,84.7 316.4,84.5 316.9,84.7 317.3,84.5 317.7,84.8 318.1,84.4 318.5,84.3 318.9,83.4 319.3,84.1 319.7,84.6 320.1,85.4 320.5,85.1 320.9,84.9 321.3,84.7 321.8,85.2 322.2,85.9 322.6,85.6 323,84.7 323.4,83.8 323.8,83.8 324.2,84.6 324.6,85.1 325,85.4 325.4,85.7 325.8,85.3 326.3,84.8 326.7,84.4 327.1,84.7 327.5,84.3 327.9,83.8 328.3,84 328.7,84.6 329.1,85.2 329.5,84.6 329.9,84 330.3,83.9 330.8,83.8 331.2,83.9 331.6,84.4 332,85.6 332.4,85.8 332.8,85.2 333.2,84.7 333.6,84.7 334,84.4 334.4,84.1 334.8,84.1 335.2,83.9 335.7,83.7 336.1,84.2 336.5,84.6 336.9,84.5 337.3,83.8 337.7,83.9 338.1,84.7 338.5,85.3 338.9,84.9 339.3,84.6 339.7,84.6 340.2,84.5 340.6,84.1 341,84.4 341.4,84.8 341.8,85.2 342.2,85 342.6,84.5 343,84.2 343.4,84.1 343.8,84.1 344.2,84 344.6,83.8 345.1,84 345.5,84.2 345.9,84.6 346.3,84.8 346.7,85 347.1,85.2 347.5,84.9 347.9,84.4 348.3,84.6 348.7,84.3 349.1,84.4 349.6,84.3 350,84.6 350.4,83.9 350.8,84.3 351.2,84.7 351.6,85 352,84.5 352.4,84.2 352.8,84.1 353.2,84.3 353.6,83.8 354,83.6 354.5,83.7 354.9,84.4 355.3,84.6 355.7,85 356.1,84.7 356.5,84.6 356.9,84.6 357.3,85.3 357.7,85.4 358.1,85 358.5,84.8 359,84.9 359.4,85 359.8,85 360.2,85 360.6,84.8 361,84.3 361.4,83.9 361.8,84.2 362.2,84.2 362.6,83.9 363,83.8 363.5,84.1 363.9,84.5 364.3,84.8 364.7,85.3 365.1,84.7 365.5,84.2 365.9,84.1 366.3,84.5 366.7,84.6 367.1,84.6 367.5,84.4 367.9,83.7 368.4,84 368.8,84 369.2,84.1 369.6,84.4 370,84.8 370.4,84.3 370.8,83.5 371.2,83.7 371.6,84.2 372,85 372.4,85.2 372.9,85 373.3,84.7 373.7,84.8 374.1,85 374.5,84.2 374.9,84.3 375.3,84.7 375.7,85.9 376.1,85.8 376.5,85.3 376.9,84.7 377.3,84.8 377.8,84.7 378.2,84.5 378.6,84 379,84.2 379.4,84.9 379.8,85.4 380.2,85.5 380.6,84.9 381,84.8 381.4,84.8 381.8,85 382.3,85.2 382.7,85.4 383.1,85 383.5,84.7 383.9,84.7 384.3,84.9 384.7,84.9 385.1,85 385.5,84.9 385.9,84.8 386.3,84.7 386.7,84.9 387.2,85.1 387.6,85.5 388,85 388.4,84 388.8,83.7 389.2,84.2 389.6,84.1 390,83.8 390.4,84.2 390.8,85 391.2,85.7 391.7,85.7 392.1,84.8 392.5,83.9 392.9,83.9 393.3,84.5 393.7,84.6 394.1,83.9 394.5,83.9 394.9,84.4 395.3,84.8 395.7,84.7 396.2,84.8" fill="none" stroke="#f01c1c" stroke-width="1.0" stroke-linejoin="round" />
<polyline points="249,105.6 249.4,105.8 249.8,105.9 250.2,104.8 250.6,104.8 251,104.5 251.5,104.7 251.9,105.1 252.3,105.5 252.7,105.3 253.1,105.2 253.5,105.5 253.9,105.4 254.3,105.1 254.7,105.1 255.1,105.5 255.5,106.2 255.9,105.7 256.4,105.4 256.8,104.7 257.2,104.9 257.6,104.4 258,104.2 258.4,104.3 258.8,104.5 259.2,105.1 259.6,105 260,105.7 260.4,105.6 260.9,105.4 261.3,104.9 261.7,105.2 262.1,105.7 262.5,105.9 262.9,105.5 263.3,104.9 263.7,104.9 264.1,105.6 264.5,105.8 264.9,105.9 265.4,105.9 265.8,105.6 266.2,104.4 266.6,103.4 267,102.5 267.4,102 267.8,101.7 268.2,101.2 268.6,100.2 269,99.4 269.4,98.9 269.8,98.7 270.3,98 270.7,97.3 271.1,96.6 271.5,96.3 271.9,95.5 272.3,95.3 272.7,95.2 273.1,95.3 273.5,94.6 273.9,94.1 274.3,93.8 274.8,93.3 275.2,92.3 275.6,91.5 276,92 276.4,92.5 276.8,92.4 277.2,91.6 277.6,91.1 278,89.8 278.4,89 278.8,88.9 279.2,88.9 279.7,88.3 280.1,87.8 280.5,87.8 280.9,87.6 281.3,87.1 281.7,87.1 282.1,87.4 282.5,86.9 282.9,85.6 283.3,85 283.7,85.4 284.2,85.4 284.6,85.2 285,84.9 285.4,84 285.8,83.2 286.2,82.6 286.6,82.8 287,82.6 287.4,82.2 287.8,82.2 288.2,82.4 288.6,82.5 289.1,81.8 289.5,81 289.9,80.4 290.3,80.7 290.7,81.2 291.1,81.3 291.5,81 291.9,80.2 292.3,79.7 292.7,79.5 293.1,79.9 293.6,79.3 294,78.9 294.4,78.5 294.8,78.6 295.2,78.3 295.6,78.3 296,78.4 296.4,78.9 296.8,78.1 297.2,77.6 297.6,77.6 298.1,77.9 298.5,77 298.9,76.3 299.3,76 299.7,76.4 300.1,76.2 300.5,76.5 300.9,76.7 301.3,76.6 301.7,76.9 302.1,76.1 302.5,75.2 303,74.6 303.4,75.3 303.8,75.6 304.2,75.3 304.6,75.1 305,73.7 305.4,74.5 305.8,74.8 306.2,74.5 306.6,74.3 307,74.6 307.5,75.2 307.9,75.1 308.3,75.1 308.7,75.2 309.1,75.9 309.5,76.3 309.9,76.4 310.3,76.6 310.7,76.7 311.1,76.6 311.5,76.8 311.9,77.1 312.4,76.5 312.8,75.8 313.2,76 313.6,76.3 314,76.5 314.4,77.5 314.8,78.9 315.2,79.2 315.6,78.5 316,77.6 316.4,77.8 316.9,77.9 317.3,78.2 317.7,77.8 318.1,77.9 318.5,77.4 318.9,77.5 319.3,77.7 319.7,78.1 320.1,78.2 320.5,77.9 320.9,77.3 321.3,76.6 321.8,76.5 322.2,76.7 322.6,77 323,77.2 323.4,77.9 323.8,79.1 324.2,78.9 324.6,78.1 325,77.3 325.4,77.7 325.8,77.9 326.3,77.6 326.7,77.3 327.1,77.8 327.5,78.6 327.9,78.2 328.3,78.1 328.7,78.9 329.1,80 329.5,80.1 329.9,79.1 330.3,78.3 330.8,78.2 331.2,78.8 331.6,78.9 332,78.7 332.4,78.5 332.8,78.6 333.2,78.7 333.6,78.1 334,78.5 334.4,78.6 334.8,79.2 335.2,78.4 335.7,78.4 336.1,78.1 336.5,78.1 336.9,78 337.3,77.8 337.7,78.3 338.1,78.3 338.5,78.4 338.9,78.1 339.3,77.9 339.7,77.4 340.2,77 340.6,78 341,79 341.4,79.1 341.8,78.7 342.2,78.7 342.6,78.4 343,77.7 343.4,78 343.8,78.5 344.2,78.5 344.6,78.2 345.1,78.4 345.5,78.6 345.9,79 346.3,79.2 346.7,79.3 347.1,79 347.5,78.8 347.9,78.8 348.3,78.9 348.7,78.8 349.1,78.6 349.6,78.6 350,78.8 350.4,79 350.8,79.2 351.2,79.1 351.6,78.8 352,79.4 352.4,79.8 352.8,80.5 353.2,80.2 353.6,80 354,79.4 354.5,79 354.9,79 355.3,79.8 355.7,80.7 356.1,80.3 356.5,78.9 356.9,78.6 357.3,79.6 357.7,79.6 358.1,79.9 358.5,79.8 359,80.2 359.4,79.6 359.8,80 360.2,80.3 360.6,80 361,79.7 361.4,80.1 361.8,80.5 362.2,80.3 362.6,79.9 363,80.2 363.5,80.1 363.9,80 364.3,80.1 364.7,80.3 365.1,80.2 365.5,79.8 365.9,80.3 366.3,80.7 366.7,80.5 367.1,79.6 367.5,79.3 367.9,79.4 368.4,79.4 368.8,79.2 369.2,78.7 369.6,78.7 370,79.2 370.4,79.6 370.8,80.1 371.2,80.1 371.6,80.2 372,79.6 372.4,79.5 372.9,79.2 373.3,79.6 373.7,80 374.1,80.1 374.5,79.7 374.9,79.4 375.3,79.3 375.7,79.2 376.1,78.8 376.5,78.5 376.9,78.6 377.3,79.3 377.8,79.5 378.2,79.3 378.6,79.2 379,79.5 379.4,79.8 379.8,79 380.2,78.4 380.6,78.3 381,78.7 381.4,79.6 381.8,79.5 382.3,79.1 382.7,78 383.1,78.8 383.5,79.1 383.9,79.3 384.3,79.4 384.7,79.9 385.1,79.6 385.5,78.6 385.9,78.3 386.3,78.5 386.7,78.6 387.2,78.6 387.6,78.7 388,79.1 388.4,79.1 388.8,78.8 389.2,78 389.6,78 390,77.8 390.4,78 390.8,77.7 391.2,78.3 391.7,78.8 392.1,79.2 392.5,78.6 392.9,78.3 393.3,78 393.7,78.1 394.1,77.9 394.5,78 394.9,78.3 395.3,78.5 395.7,78.5 396.2,78.4" fill="none" stroke="#a07540" stroke-width="1.0" stroke-linejoin="round" />
<polyline points="249,105.2 249.4,104.9 249.8,104.7 250.2,104.5 250.6,105 251,105.6 251.5,106.4 251.9,106.1 252.3,105.6 252.7,105.1 253.1,105.1 253.5,105.8 253.9,106 254.3,106.2 254.7,105.3 255.1,104.8 255.5,104.4 255.9,104.9 256.4,105 256.8,105.1 257.2,105.1 257.6,105.5 258,105.8 258.4,105.8 258.8,105.9 259.2,105.9 259.6,105.9 260,105.6 260.4,105.8 260.9,105.6 261.3,105.8 261.7,105.6 262.1,106.2 262.5,106.1 262.9,105.9 263.3,105.5 263.7,105.6 264.1,105.6 264.5,105.1 264.9,104.7 265.4,105 265.8,104.1 266.2,102.9 266.6,101.5 267,100.4 267.4,99.3 267.8,99 268.2,98.4 268.6,96.9 269,95.4 269.4,94.3 269.8,93.2 270.3,92.3 270.7,91.3 271.1,90.1 271.5,88.7 271.9,88 272.3,87.3 272.7,86.2 273.1,85.5 273.5,85.3 273.9,85 274.3,84.5 274.8,84.4 275.2,84.2 275.6,83.1 276,81.8 276.4,81.3 276.8,81.5 277.2,81.2 277.6,80.1 278,79 278.4,78.1 278.8,77.1 279.2,76.5 279.7,76.1 280.1,76.2 280.5,76.2 280.9,75.9 281.3,74.8 281.7,73.8 282.1,73.2 282.5,72.8 282.9,72.3 283.3,72.6 283.7,72.8 284.2,72.4 284.6,71.3 285,71.1 285.4,70.8 285.8,70.5 286.2,69.9 286.6,69.8 287,69.1 287.4,69.1 287.8,68.8 288.2,68.4 288.6,68 289.1,68.2 289.5,68.5 289.9,68.3 290.3,67.8 290.7,67.1 291.1,66.8 291.5,66.6 291.9,66.2 292.3,65.6 292.7,65.2 293.1,65.2 293.6,65.1 294,64.2 294.4,63.9 294.8,63.9 295.2,64.7 295.6,64.2 296,63.7 296.4,62.8 296.8,63 297.2,63.4 297.6,63.4 298.1,62.9 298.5,62.7 298.9,63.3 299.3,63.3 299.7,62.8 300.1,61.6 300.5,61.5 300.9,61.7 301.3,62.3 301.7,62.5 302.1,62.6 302.5,61.9 303,61.1 303.4,61.1 303.8,61.8 304.2,61.6 304.6,61 305,59.6 305.4,60.4 305.8,61.1 306.2,61.5 306.6,62 307,62.5 307.5,63.4 307.9,64.2 308.3,64.8 308.7,64.5 309.1,64.7 309.5,65 309.9,64.8 310.3,64.5 310.7,64.9 311.1,65.2 311.5,65.4 311.9,66 312.4,66.6 312.8,66.4 313.2,66.5 313.6,66.8 314,67.3 314.4,67.4 314.8,67.9 315.2,67.9 315.6,67.6 316,67.3 316.4,67.8 316.9,68.3 317.3,68.2 317.7,67.6 318.1,67.4 318.5,67.3 318.9,67.4 319.3,67.4 319.7,67.9 320.1,68.4 320.5,68.8 320.9,69.3 321.3,70 321.8,69.2 322.2,68.6 322.6,69.1 323,70 323.4,69.1 323.8,68.4 324.2,68.3 324.6,68.8 325,68.9 325.4,68.7 325.8,68.3 326.3,68.3 326.7,68.5 327.1,68.4 327.5,68.4 327.9,68.8 328.3,69 328.7,69.1 329.1,69 329.5,68.9 329.9,69 330.3,69.9 330.8,70.3 331.2,69.7 331.6,69.3 332,69.1 332.4,69.5 332.8,69.1 333.2,69 333.6,69.1 334,69.5 334.4,69.6 334.8,69.3 335.2,69.2 335.7,69.4 336.1,69.3 336.5,68.8 336.9,68.5 337.3,69 337.7,69.3 338.1,69.4 338.5,69.1 338.9,68.7 339.3,68.6 339.7,68.9 340.2,69.7 340.6,69.8 341,69.9 341.4,69.2 341.8,68.9 342.2,69 342.6,69 343,69.2 343.4,69.1 343.8,69.2 344.2,68.7 344.6,69 345.1,69.4 345.5,69.7 345.9,69.4 346.3,69.9 346.7,70.2 347.1,70.2 347.5,69.7 347.9,70.1 348.3,70.4 348.7,70.3 349.1,69.6 349.6,69 350,68.8 350.4,69.6 350.8,70.2 351.2,70.4 351.6,69.7 352,69.1 352.4,68.6 352.8,68.4 353.2,68.3 353.6,68.2 354,69.1 354.5,69.6 354.9,70.1 355.3,69.7 355.7,69.4 356.1,68.7 356.5,68.8 356.9,69.5 357.3,69.9 357.7,69.5 358.1,68.5 358.5,68.9 359,69.6 359.4,70 359.8,70 360.2,70.2 360.6,70.5 361,69.5 361.4,69 361.8,69.3 362.2,70.2 362.6,69.9 363,69.3 363.5,68.8 363.9,68.6 364.3,69 364.7,69.3 365.1,69.6 365.5,70.1 365.9,69.7 366.3,69.4 366.7,68.9 367.1,69.4 367.5,69.4 367.9,69.7 368.4,70 368.8,70.1 369.2,69.9 369.6,69.2 370,69.1 370.4,68.9 370.8,69 371.2,69.2 371.6,70.1 372,70.5 372.4,69.9 372.9,69.2 373.3,68.9 373.7,69.4 374.1,69.7 374.5,69.4 374.9,69 375.3,68.6 375.7,68.9 376.1,69.1 376.5,70.2 376.9,70.5 377.3,70.7 377.8,70.8 378.2,70.6 378.6,69.6 379,68.9 379.4,69.2 379.8,69.5 380.2,69.6 380.6,69.5 381,69.5 381.4,69.4 381.8,70.1 382.3,70.2 382.7,70.2 383.1,69.5 383.5,69.3 383.9,69.3 384.3,69.5 384.7,69.5 385.1,69.5 385.5,70 385.9,70.1 386.3,70.5 386.7,70.7 387.2,70.5 387.6,70 388,70.4 388.4,70.5 388.8,69.8 389.2,68.7 389.6,68.5 390,69.2 390.4,69.5 390.8,69.3 391.2,69.1 391.7,69.2 392.1,68.9 392.5,68.2 392.9,68.7 393.3,68.8 393.7,68.6 394.1,67.6 394.5,67.6 394.9,67.5 395.3,67.3 395.7,67.8 396.2,68.3" fill="none" stroke="#111111" stroke-width="1.0" stroke-linejoin="round" />
<polyline points="249,105.1 249.4,104.6 249.8,104.8 250.2,105.4 250.6,105.8 251,105.6 251.5,105.4 251.9,105.1 252.3,105.7 252.7,105.5 253.1,105.4 253.5,104.9 253.9,105.3 254.3,105.4 254.7,105.5 255.1,105.2 255.5,105.1 255.9,105.3 256.4,105.4 256.8,105.5 257.2,106 257.6,106.1 258,105.9 258.4,106.1 258.8,106.6 259.2,106.4 259.6,106.2 260,106.4 260.4,106.3 260.9,105.6 261.3,105.2 261.7,105.5 262.1,105.7 262.5,105.3 262.9,105.2 263.3,105.2 263.7,105.1 264.1,105 264.5,105.5 264.9,105.7 265.4,105.5 265.8,103.1 266.2,101.6 266.6,100.3 267,99.1 267.4,97.5 267.8,95.8 268.2,93.7 268.6,91.9 269,90.2 269.4,88.5 269.8,86.8 270.3,85.7 270.7,84.4 271.1,83.7 271.5,82.6 271.9,81.3 272.3,80.3 272.7,79.5 273.1,78.5 273.5,76.8 273.9,75.9 274.3,75 274.8,74.1 275.2,73.3 275.6,72.3 276,71.4 276.4,70.3 276.8,69.7 277.2,68.7 277.6,67.8 278,67 278.4,66.5 278.8,65.5 279.2,64.3 279.7,64.2 280.1,63.9 280.5,63.5 280.9,62.5 281.3,62.5 281.7,61.8 282.1,61.4 282.5,60.7 282.9,60 283.3,59.5 283.7,59.5 284.2,59.7 284.6,58.8 285,57.7 285.4,56.3 285.8,56.4 286.2,56.9 286.6,56.8 287,55.4 287.4,54.7 287.8,54.8 288.2,54.9 288.6,54.6 289.1,54.2 289.5,54.2 289.9,53.8 290.3,53.3 290.7,52.8 291.1,52.8 291.5,53 291.9,52.9 292.3,52.2 292.7,51.5 293.1,51.7 293.6,51.5 294,50.8 294.4,49.7 294.8,49.7 295.2,50 295.6,50.8 296,50.4 296.4,49.1 296.8,48.7 297.2,49.3 297.6,49.7 298.1,49.4 298.5,49.3 298.9,49.4 299.3,48.9 299.7,48.4 300.1,48.1 300.5,47.8 300.9,48 301.3,47.9 301.7,48.6 302.1,49 302.5,48.7 303,47.9 303.4,47.4 303.8,47.3 304.2,46.6 304.6,46.4 305,46.6 305.4,47.3 305.8,48.2 306.2,49.1 306.6,49.5 307,49.9 307.5,50.2 307.9,50.4 308.3,50.2 308.7,50.4 309.1,51.3 309.5,51.8 309.9,51.7 310.3,51.1 310.7,51.1 311.1,51.6 311.5,52.5 311.9,52.3 312.4,51.9 312.8,51.5 313.2,51.6 313.6,52.2 314,53 314.4,53.6 314.8,53.3 315.2,53.5 315.6,53.7 316,54 316.4,54.7 316.9,55.1 317.3,55.4 317.7,55.2 318.1,55.3 318.5,55.1 318.9,55 319.3,54.9 319.7,55.1 320.1,55.4 320.5,55.8 320.9,56.1 321.3,56.3 321.8,56.2 322.2,56.2 322.6,56 323,56.5 323.4,56.6 323.8,56.8 324.2,56.9 324.6,57.3 325,57.2 325.4,57.1 325.8,57.2 326.3,57.5 326.7,57.9 327.1,57.4 327.5,57 327.9,57.3 328.3,57.8 328.7,58.2 329.1,57.6 329.5,57.7 329.9,57.5 330.3,57.8 330.8,57.8 331.2,58.1 331.6,57.8 332,57.3 332.4,57.4 332.8,57.5 333.2,57.5 333.6,57.6 334,58 334.4,57.9 334.8,58.2 335.2,58.2 335.7,58.3 336.1,58.5 336.5,58.7 336.9,58 337.3,57.4 337.7,57.7 338.1,58.2 338.5,58.5 338.9,58.5 339.3,58.7 339.7,59.2 340.2,59.3 340.6,59.4 341,59.1 341.4,59.6 341.8,59.8 342.2,59.9 342.6,59.2 343,58.2 343.4,57.9 343.8,58 344.2,58.5 344.6,59.1 345.1,59.5 345.5,59.2 345.9,58.8 346.3,58.8 346.7,58.7 347.1,58.8 347.5,59.5 347.9,59.8 348.3,59.5 348.7,59.2 349.1,58.9 349.6,58.3 350,58.2 350.4,58.5 350.8,58.6 351.2,58.3 351.6,58.2 352,58.6 352.4,58.7 352.8,58.4 353.2,57.9 353.6,58.4 354,58.9 354.5,58.7 354.9,58.4 355.3,58.8 355.7,58.8 356.1,59.1 356.5,59 356.9,59.3 357.3,59.4 357.7,59.3 358.1,59 358.5,59 359,59.4 359.4,59.4 359.8,59.7 360.2,60.2 360.6,59.9 361,59.1 361.4,58.9 361.8,59 362.2,59 362.6,59.1 363,58.9 363.5,58.8 363.9,58.8 364.3,59 364.7,59.3 365.1,59.7 365.5,59.4 365.9,58.8 366.3,58.8 366.7,59.2 367.1,59.4 367.5,59.3 367.9,59.5 368.4,59.4 368.8,59.8 369.2,59.4 369.6,59.4 370,59.5 370.4,60.1 370.8,59.9 371.2,59.5 371.6,59.7 372,59.6 372.4,58.5 372.9,58.2 373.3,58.7 373.7,59.6 374.1,59.3 374.5,59.8 374.9,60.2 375.3,60.1 375.7,59.5 376.1,58.8 376.5,58.9 376.9,59.1 377.3,58.7 377.8,58.4 378.2,59.1 378.6,59.9 379,59.6 379.4,59.1 379.8,59 380.2,59.3 380.6,59.5 381,58.8 381.4,58 381.8,58.9 382.3,60 382.7,60.4 383.1,59.5 383.5,59.4 383.9,58.7 384.3,58.4 384.7,58.2 385.1,58.7 385.5,59.1 385.9,59.2 386.3,58.9 386.7,58.6 387.2,58.9 387.6,59 388,58.9 388.4,59 388.8,59.5 389.2,59.8 389.6,60 390,60.5 390.4,60.3 390.8,59.6 391.2,58.9 391.7,59 392.1,58.9 392.5,58.8 392.9,59.8 393.3,60.2 393.7,60 394.1,58.8 394.5,58.1 394.9,57.9 395.3,58.7 395.7,60 396.2,60.5" fill="none" stroke="#ff8c1a" stroke-width="1.0" stroke-linejoin="round" />
<text transform="translate(459.0,23.2) scale(1.11,1)" font-size="28.8" font-weight="bold" fill="#000">c</text>
<line x1="493.3" y1="29.3" x2="493.3" y2="126.3" stroke="#222" stroke-width="1.1" />
<line x1="492.8" y1="114.4" x2="639.9" y2="114.4" stroke="#222" stroke-width="1.1" />
<line x1="490.5" y1="29.2" x2="493.3" y2="29.2" stroke="#222" stroke-width="1" />
<line x1="491.5" y1="38.9" x2="493.3" y2="38.9" stroke="#222" stroke-width="1" />
<line x1="490.5" y1="48.6" x2="493.3" y2="48.6" stroke="#222" stroke-width="1" />
<line x1="491.5" y1="58.2" x2="493.3" y2="58.2" stroke="#222" stroke-width="1" />
<line x1="490.5" y1="68" x2="493.3" y2="68" stroke="#222" stroke-width="1" />
<line x1="491.5" y1="77.7" x2="493.3" y2="77.7" stroke="#222" stroke-width="1" />
<line x1="490.5" y1="87.3" x2="493.3" y2="87.3" stroke="#222" stroke-width="1" />
<line x1="491.5" y1="97" x2="493.3" y2="97" stroke="#222" stroke-width="1" />
<line x1="490.5" y1="106.8" x2="493.3" y2="106.8" stroke="#222" stroke-width="1" />
<line x1="491.5" y1="116.5" x2="493.3" y2="116.5" stroke="#222" stroke-width="1" />
<line x1="490.5" y1="126.2" x2="493.3" y2="126.2" stroke="#222" stroke-width="1" />
<text x="490.2" y="31.8" font-size="7.6" font-weight="bold" text-anchor="end" fill="#333" >20</text>
<text x="490.2" y="51.2" font-size="7.6" font-weight="bold" text-anchor="end" fill="#333" >15</text>
<text x="490.2" y="70.5" font-size="7.6" font-weight="bold" text-anchor="end" fill="#333" >10</text>
<text x="490.2" y="89.9" font-size="7.6" font-weight="bold" text-anchor="end" fill="#333" >5</text>
<text x="490.2" y="109.3" font-size="7.6" font-weight="bold" text-anchor="end" fill="#333" >0</text>
<text x="490.2" y="128.8" font-size="7.6" font-weight="bold" text-anchor="end" fill="#333" >-5</text>
<line x1="509.3" y1="114.4" x2="509.3" y2="117.4" stroke="#222" stroke-width="1" />
<line x1="525.6" y1="114.4" x2="525.6" y2="116.4" stroke="#222" stroke-width="1" />
<line x1="541.9" y1="114.4" x2="541.9" y2="117.4" stroke="#222" stroke-width="1" />
<line x1="558.2" y1="114.4" x2="558.2" y2="116.4" stroke="#222" stroke-width="1" />
<line x1="574.5" y1="114.4" x2="574.5" y2="117.4" stroke="#222" stroke-width="1" />
<line x1="590.8" y1="114.4" x2="590.8" y2="116.4" stroke="#222" stroke-width="1" />
<line x1="607.1" y1="114.4" x2="607.1" y2="117.4" stroke="#222" stroke-width="1" />
<line x1="623.4" y1="114.4" x2="623.4" y2="116.4" stroke="#222" stroke-width="1" />
<line x1="639.7" y1="114.4" x2="639.7" y2="117.4" stroke="#222" stroke-width="1" />
<text x="509.3" y="126.2" font-size="7.6" font-weight="bold" text-anchor="middle" fill="#333" >0</text>
<text x="541.9" y="126.2" font-size="7.6" font-weight="bold" text-anchor="middle" fill="#333" >100</text>
<text x="574.5" y="126.2" font-size="7.6" font-weight="bold" text-anchor="middle" fill="#333" >200</text>
<text x="607.1" y="126.2" font-size="7.6" font-weight="bold" text-anchor="middle" fill="#333" >300</text>
<text x="639.7" y="126.2" font-size="7.6" font-weight="bold" text-anchor="middle" fill="#333" >400</text>
<text x="567.2" y="134.1" font-size="6.8" font-weight="bold" text-anchor="middle" fill="#222" >Time, s</text>
<text transform="translate(477.6,75.6) rotate(-90)" font-size="6.9" font-weight="bold" text-anchor="middle" fill="#222" textLength="44.8" lengthAdjust="spacingAndGlyphs">Response (RU)</text>
<text x="510" y="31.2" font-size="6.4" font-weight="normal" text-anchor="start" fill="#222" >NB2: <tspan font-style="italic">K</tspan><tspan font-size="4.6" dy="1.2">D</tspan><tspan dy="-1.2">: 31 nM</tspan></text>
<text x="652.6" y="40.1" font-size="6.2" font-weight="normal" text-anchor="start" fill="#333" >[NB2]  (nM)</text>
<line x1="659" y1="50.4" x2="665" y2="50.4" stroke="#b034ec" stroke-width="1" />
<text x="668.1" y="52.6" font-size="6.2" font-weight="normal" text-anchor="start" fill="#333" >125</text>
<line x1="659" y1="61.2" x2="665" y2="61.2" stroke="#f59a3c" stroke-width="1" />
<text x="668.1" y="63.4" font-size="6.2" font-weight="normal" text-anchor="start" fill="#333" >62.5</text>
<line x1="659" y1="71.5" x2="665" y2="71.5" stroke="#1a1a1a" stroke-width="1" />
<text x="668.1" y="73.7" font-size="6.2" font-weight="normal" text-anchor="start" fill="#333" >31.3</text>
<line x1="659" y1="81.8" x2="665" y2="81.8" stroke="#a8804e" stroke-width="1" />
<text x="668.1" y="84" font-size="6.2" font-weight="normal" text-anchor="start" fill="#333" >15.6</text>
<polyline points="509.3,106.8 510.6,102.6 511.9,98.7 513.2,95.1 514.5,91.7 515.8,88.6 517.1,85.7 518.4,82.9 519.7,80.4 521,78.1 522.3,75.9 523.6,73.8 524.9,72 526.3,70.2 527.6,68.6 528.9,67 530.2,65.6 531.5,64.3 532.8,63.1 534.1,61.9 535.4,60.9 536.7,59.9 538,58.9 539.3,58.1 540.6,57.3 541.9,56.6 543.2,55.9 544.5,55.2 545.8,54.6 547.1,54.1 548.4,53.5 549.7,54 551,54.5 552.3,55 553.6,55.5 554.9,56 556.2,56.5 557.5,57 558.9,57.4 560.2,57.9 561.5,58.4 562.8,58.8 564.1,59.3 565.4,59.7 566.7,60.2 568,60.6 569.3,61 570.6,61.5 571.9,61.9 573.2,62.3 574.5,62.7 575.8,63.1 577.1,63.6 578.4,64 579.7,64.4 581,64.8 582.3,65.2 583.6,65.6 584.9,65.9 586.2,66.3 587.5,66.7 588.8,67.1 590.1,67.5 591.5,67.8 592.8,68.2 594.1,68.6 595.4,68.9 596.7,69.3 598,69.6 599.3,70 600.6,70.3 601.9,70.7 603.2,71 604.5,71.4 605.8,71.7 607.1,72 608.4,72.3 609.7,72.7 611,73 612.3,73.3 613.6,73.6 614.9,73.9 616.2,74.3 617.5,74.6 618.8,74.9 620.1,75.2 621.4,75.5 622.7,75.8 624.1,76 625.4,76.3 626.7,76.6 628,76.9 629.3,77.2 630.6,77.5 631.9,77.7 633.2,78 634.5,78.3 635.8,78.6 637.1,78.8 638.4,79.1 639.7,79.4" fill="none" stroke="#b034ec" stroke-width="0.8" stroke-linejoin="round" stroke-dasharray="1.3,1.1"/>
<polyline points="509.3,106.8 510.6,104.3 511.9,102.1 513.2,100 514.5,98 515.8,96.1 517.1,94.4 518.4,92.7 519.7,91.2 521,89.8 522.3,88.4 523.6,87.1 524.9,86 526.3,84.8 527.6,83.8 528.9,82.8 530.2,81.9 531.5,81 532.8,80.2 534.1,79.5 535.4,78.7 536.7,78.1 538,77.4 539.3,76.9 540.6,76.3 541.9,75.8 543.2,75.3 544.5,74.8 545.8,74.4 547.1,74 548.4,73.6 549.7,73.9 551,74.2 552.3,74.5 553.6,74.8 554.9,75.1 556.2,75.3 557.5,75.6 558.9,75.9 560.2,76.2 561.5,76.4 562.8,76.7 564.1,77 565.4,77.2 566.7,77.5 568,77.7 569.3,78 570.6,78.2 571.9,78.5 573.2,78.7 574.5,79 575.8,79.2 577.1,79.5 578.4,79.7 579.7,79.9 581,80.2 582.3,80.4 583.6,80.6 584.9,80.9 586.2,81.1 587.5,81.3 588.8,81.5 590.1,81.8 591.5,82 592.8,82.2 594.1,82.4 595.4,82.6 596.7,82.8 598,83 599.3,83.3 600.6,83.5 601.9,83.7 603.2,83.9 604.5,84.1 605.8,84.3 607.1,84.5 608.4,84.7 609.7,84.9 611,85 612.3,85.2 613.6,85.4 614.9,85.6 616.2,85.8 617.5,86 618.8,86.2 620.1,86.3 621.4,86.5 622.7,86.7 624.1,86.9 625.4,87 626.7,87.2 628,87.4 629.3,87.6 630.6,87.7 631.9,87.9 633.2,88.1 634.5,88.2 635.8,88.4 637.1,88.5 638.4,88.7 639.7,88.9" fill="none" stroke="#f59a3c" stroke-width="0.8" stroke-linejoin="round" stroke-dasharray="1.3,1.1"/>
<polyline points="509.3,106.8 510.6,105.5 511.9,104.4 513.2,103.3 514.5,102.3 515.8,101.3 517.1,100.4 518.4,99.6 519.7,98.8 521,98 522.3,97.3 523.6,96.6 524.9,96 526.3,95.4 527.6,94.8 528.9,94.3 530.2,93.8 531.5,93.4 532.8,92.9 534.1,92.5 535.4,92.1 536.7,91.7 538,91.4 539.3,91.1 540.6,90.8 541.9,90.5 543.2,90.2 544.5,89.9 545.8,89.7 547.1,89.5 548.4,89.3 549.7,89.4 551,89.5 552.3,89.6 553.6,89.7 554.9,89.8 556.2,90 557.5,90.1 558.9,90.2 560.2,90.3 561.5,90.4 562.8,90.5 564.1,90.6 565.4,90.7 566.7,90.8 568,91 569.3,91.1 570.6,91.2 571.9,91.3 573.2,91.4 574.5,91.5 575.8,91.6 577.1,91.7 578.4,91.8 579.7,91.9 581,92 582.3,92.1 583.6,92.2 584.9,92.3 586.2,92.4 587.5,92.5 588.8,92.6 590.1,92.7 591.5,92.8 592.8,92.9 594.1,93 595.4,93.1 596.7,93.2 598,93.2 599.3,93.3 600.6,93.4 601.9,93.5 603.2,93.6 604.5,93.7 605.8,93.8 607.1,93.9 608.4,94 609.7,94 611,94.1 612.3,94.2 613.6,94.3 614.9,94.4 616.2,94.5 617.5,94.6 618.8,94.6 620.1,94.7 621.4,94.8 622.7,94.9 624.1,95 625.4,95 626.7,95.1 628,95.2 629.3,95.3 630.6,95.4 631.9,95.4 633.2,95.5 634.5,95.6 635.8,95.7 637.1,95.7 638.4,95.8 639.7,95.9" fill="none" stroke="#1a1a1a" stroke-width="0.8" stroke-linejoin="round" stroke-dasharray="1.3,1.1"/>
<polyline points="509.3,106.8 510.6,106.2 511.9,105.6 513.2,105.1 514.5,104.6 515.8,104.2 517.1,103.7 518.4,103.3 519.7,102.9 521,102.5 522.3,102.2 523.6,101.8 524.9,101.5 526.3,101.2 527.6,100.9 528.9,100.7 530.2,100.4 531.5,100.1 532.8,99.9 534.1,99.7 535.4,99.5 536.7,99.3 538,99.1 539.3,98.9 540.6,98.7 541.9,98.6 543.2,98.4 544.5,98.3 545.8,98.1 547.1,98 548.4,97.9 549.7,97.9 551,98 552.3,98 553.6,98.1 554.9,98.2 556.2,98.2 557.5,98.3 558.9,98.3 560.2,98.4 561.5,98.4 562.8,98.5 564.1,98.6 565.4,98.6 566.7,98.7 568,98.7 569.3,98.8 570.6,98.8 571.9,98.9 573.2,98.9 574.5,99 575.8,99 577.1,99.1 578.4,99.1 579.7,99.2 581,99.3 582.3,99.3 583.6,99.4 584.9,99.4 586.2,99.5 587.5,99.5 588.8,99.6 590.1,99.6 591.5,99.6 592.8,99.7 594.1,99.7 595.4,99.8 596.7,99.8 598,99.9 599.3,99.9 600.6,100 601.9,100 603.2,100.1 604.5,100.1 605.8,100.2 607.1,100.2 608.4,100.2 609.7,100.3 611,100.3 612.3,100.4 613.6,100.4 614.9,100.5 616.2,100.5 617.5,100.6 618.8,100.6 620.1,100.6 621.4,100.7 622.7,100.7 624.1,100.8 625.4,100.8 626.7,100.8 628,100.9 629.3,100.9 630.6,101 631.9,101 633.2,101 634.5,101.1 635.8,101.1 637.1,101.2 638.4,101.2 639.7,101.2" fill="none" stroke="#a8804e" stroke-width="0.8" stroke-linejoin="round" stroke-dasharray="1.3,1.1"/>
<polyline points="493,106 493.4,106.5 493.8,107.2 494.2,107.4 494.6,107.1 495,106.8 495.4,107 495.9,106.8 496.3,107.1 496.7,107 497.1,106.9 497.5,106.2 497.9,106.4 498.3,106.2 498.7,106 499.1,106.3 499.5,107.1 499.9,107.4 500.3,107 500.7,107.3 501.2,107.1 501.6,107.6 502,107 502.4,106.8 502.8,105.8 503.2,106.3 503.6,107.3 504,108.5 504.4,108.2 504.8,106.7 505.2,105.7 505.6,105.3 506,106.2 506.4,106.9 506.9,107.4 507.3,106.7 507.7,106.5 508.1,106.7 508.5,106.5 508.9,106.4 509.3,106.6 509.7,107.3 510.1,107 510.5,106.4 510.9,105.2 511.3,105.4 511.7,106.6 512.2,106.8 512.6,105.2 513,104.2 513.4,104.4 513.8,104.7 514.2,105 514.6,106.2 515,106.1 515.4,104.7 515.8,104 516.2,104.2 516.6,104.4 517,104.1 517.5,104.3 517.9,103.5 518.3,102.7 518.7,102.3 519.1,102.8 519.5,102.5 519.9,102.4 520.3,102.1 520.7,102.3 521.1,102 521.5,101.9 521.9,101.4 522.3,101.8 522.7,102.1 523.2,102.6 523.6,101.4 524,100.9 524.4,100.7 524.8,101.6 525.2,101.8 525.6,102.2 526,101.6 526.4,101.4 526.8,100.2 527.2,100.1 527.6,99.6 528,99.9 528.5,99.4 528.9,99.9 529.3,100 529.7,100 530.1,99.9 530.5,99.7 530.9,99.9 531.3,99.8 531.7,99.9 532.1,99.2 532.5,99.5 532.9,99.2 533.3,99.3 533.8,99.2 534.2,99.7 534.6,99.4 535,99 535.4,97.5 535.8,97.9 536.2,98.3 536.6,98.5 537,97 537.4,97.1 537.8,97.3 538.2,97.1 538.6,96.9 539,97.1 539.5,97.7 539.9,97.5 540.3,96.9 540.7,97 541.1,97 541.5,98.1 541.9,98 542.3,98.1 542.7,96.9 543.1,96.6 543.5,96.2 543.9,96.4 544.3,96.5 544.8,97.5 545.2,97.8 545.6,98.1 546,97.1 546.4,97.2 546.8,96.8 547.2,97.3 547.6,97 548,96.9 548.4,96.4 548.8,97 549.2,96.9 549.6,97.3 550,97.3 550.5,98.9 550.9,98.8 551.3,98.2 551.7,96.9 552.1,96.9 552.5,97.2 552.9,98 553.3,98.6 553.7,98.9 554.1,98.7 554.5,99 554.9,99.3 555.3,99.2 555.8,98.7 556.2,98.8 556.6,99.4 557,99.5 557.4,99.3 557.8,98.6 558.2,98.6 558.6,98.6 559,99.6 559.4,99.3 559.8,99.8 560.2,99.8 560.6,100.5 561.1,100.3 561.5,100.5 561.9,100.6 562.3,100.5 562.7,100.3 563.1,99.7 563.5,99.3 563.9,98.8 564.3,99 564.7,100 565.1,100 565.5,99.6 565.9,100.5 566.4,101.4 566.8,101.3 567.2,100.8 567.6,101.4 568,101.4 568.4,101.4 568.8,101.3 569.2,101.2 569.6,101.1 570,101.1 570.4,100.9 570.8,100.3 571.2,100.2 571.6,100.8 572.1,101.5 572.5,101 572.9,99.9 573.3,100.2 573.7,100.9 574.1,101.5 574.5,101.5 574.9,102.3 575.3,102.9 575.7,102.9 576.1,102.2 576.5,101.4 576.9,101.6 577.4,102 577.8,102 578.2,101.8 578.6,102.7 579,103.5 579.4,103.2 579.8,101.9 580.2,101.8 580.6,101.7 581,102.7 581.4,102.5 581.8,102.6 582.2,101.8 582.6,102.5 583.1,102.8 583.5,103 583.9,102.6 584.3,102.5 584.7,102.3 585.1,102.3 585.5,102 585.9,102.5 586.3,102.7 586.7,102.7 587.1,102.9 587.5,102.6 587.9,102.8 588.4,102.4 588.8,102.9 589.2,102.7 589.6,103 590,102.3 590.4,101.4 590.8,101.2 591.2,101.8 591.6,102.2 592,101.8 592.4,101.6 592.8,101 593.2,101.1 593.7,102.3 594.1,102.9 594.5,102.8 594.9,102.4 595.3,102.2 595.7,101.3 596.1,101.2 596.5,101.4 596.9,101.6 597.3,101.5 597.7,101.9 598.1,101.7 598.5,102.1 599,102.2 599.4,102.3 599.8,102.3 600.2,102.5 600.6,102.5 601,101.9 601.4,101.3 601.8,102.1 602.2,102.5 602.6,102.7 603,101.6 603.4,101.6 603.8,102 604.2,102.8 604.7,103.4 605.1,102.8 605.5,102.6 605.9,102.3 606.3,102.7 606.7,103.3 607.1,103.8 607.5,103.6 607.9,102.3 608.3,102.1 608.7,102.6 609.1,103.4 609.5,103 610,102.3 610.4,101.9 610.8,102 611.2,102.4 611.6,102.5 612,102.4 612.4,102.9 612.8,103.7 613.2,103.2 613.6,102.5 614,102.6 614.4,103 614.8,102.7 615.2,102.6 615.7,102.4 616.1,102.7 616.5,103.4 616.9,103.6 617.3,103.2 617.7,102.4 618.1,101.5 618.5,101.2 618.9,101.4 619.3,101.5 619.7,101.3 620.1,101.4 620.5,102.4 621,103 621.4,103.4 621.8,103.3 622.2,102.7 622.6,102.1 623,102 623.4,103.2 623.8,103.5 624.2,103 624.6,102.6 625,103 625.4,103.2 625.8,102.6 626.3,103.2 626.7,103.9 627.1,103.6 627.5,103 627.9,103.1 628.3,103.7 628.7,103.2 629.1,102.4 629.5,102.1 629.9,102 630.3,102.2 630.7,102.4 631.1,102.3 631.5,101.8 632,101.8 632.4,102.6 632.8,103.4 633.2,103.9 633.6,104 634,103.1 634.4,103.3 634.8,104 635.2,103.4 635.6,101.5 636,101.6 636.4,102.9 636.8,102.9 637.3,102.7 637.7,102.7 638.1,103.4 638.5,103 638.9,102.7 639.3,101.8 639.7,101.8" fill="none" stroke="#a8804e" stroke-width="1.0" stroke-linejoin="round" />
<polyline points="493,106.4 493.4,106.5 493.8,107.5 494.2,107.7 494.6,108.1 495,107.3 495.4,106.9 495.9,105.9 496.3,105.9 496.7,106 497.1,106.5 497.5,107 497.9,106.6 498.3,106.4 498.7,106.6 499.1,107.3 499.5,107.3 499.9,107.4 500.3,107 500.7,106.8 501.2,106.9 501.6,107.2 502,107.1 502.4,107.4 502.8,107.3 503.2,106.7 503.6,106.4 504,106.7 504.4,106.1 504.8,105.8 505.2,106.8 505.6,108 506,106.9 506.4,105.3 506.9,105.6 507.3,106.4 507.7,106.9 508.1,106.8 508.5,107.7 508.9,107.5 509.3,107.3 509.7,106.2 510.1,105.9 510.5,104.5 510.9,103.5 511.3,103.5 511.7,104.1 512.2,103.6 512.6,103.1 513,103 513.4,102.7 513.8,102.3 514.2,102.5 514.6,102.7 515,101.7 515.4,100.9 515.8,99.7 516.2,99.3 516.6,98.6 517,98.6 517.5,98.1 517.9,97.9 518.3,98 518.7,97.7 519.1,96.8 519.5,95.4 519.9,95.4 520.3,95.9 520.7,97 521.1,98.2 521.5,98.4 521.9,97.2 522.3,95.7 522.7,96.1 523.2,96 523.6,95.3 524,94.5 524.4,94.6 524.8,94.2 525.2,93.7 525.6,93.9 526,93.9 526.4,93.9 526.8,92.8 527.2,92.7 527.6,92 528,91.7 528.5,90.7 528.9,91.2 529.3,91.3 529.7,91.4 530.1,91.6 530.5,92 530.9,92 531.3,91.7 531.7,91.8 532.1,92 532.5,91.7 532.9,91.1 533.3,90.7 533.8,91 534.2,90.8 534.6,90.2 535,89.7 535.4,90 535.8,90 536.2,89.7 536.6,89.5 537,89.4 537.4,89.9 537.8,90.4 538.2,90.4 538.6,89 539,88 539.5,87.3 539.9,87.6 540.3,87.6 540.7,88.3 541.1,88.6 541.5,87.9 541.9,87 542.3,87.2 542.7,88.2 543.1,88 543.5,87.7 543.9,87.4 544.3,87.9 544.8,87.7 545.2,87.2 545.6,86.4 546,86.6 546.4,87.1 546.8,87.3 547.2,87.4 547.6,87 548,86.4 548.4,86.2 548.8,87.4 549.2,88.3 549.6,88.4 550,88 550.5,88.5 550.9,88.7 551.3,87.7 551.7,87.6 552.1,88.4 552.5,88.8 552.9,88.5 553.3,89 553.7,89.6 554.1,89.4 554.5,89.5 554.9,89.4 555.3,90.2 555.8,90.3 556.2,90.4 556.6,89.9 557,90.2 557.4,90.4 557.8,90 558.2,90.3 558.6,90.6 559,91.6 559.4,92.1 559.8,92.3 560.2,92.3 560.6,92.5 561.1,92.9 561.5,92.7 561.9,92.3 562.3,91.6 562.7,92.1 563.1,92.6 563.5,92.5 563.9,91.3 564.3,90.8 564.7,91.7 565.1,92.8 565.5,93 565.9,92.2 566.4,91.9 566.8,92.2 567.2,92.5 567.6,92.9 568,93.2 568.4,92.9 568.8,92.8 569.2,92.6 569.6,93.8 570,94.3 570.4,93.9 570.8,92.5 571.2,92 571.6,92.6 572.1,93.5 572.5,94.4 572.9,93.9 573.3,93.9 573.7,94.5 574.1,95.6 574.5,95.3 574.9,95.1 575.3,94.3 575.7,94.3 576.1,93.8 576.5,93.5 576.9,93.6 577.4,94.7 577.8,95.6 578.2,95.5 578.6,94.3 579,93.7 579.4,94.4 579.8,95.2 580.2,95.3 580.6,95.3 581,96.1 581.4,96.1 581.8,95 582.2,93.8 582.6,93.5 583.1,94 583.5,94.4 583.9,94.4 584.3,94.5 584.7,94.7 585.1,95.2 585.5,94.9 585.9,95.2 586.3,95.1 586.7,95 587.1,94.4 587.5,94.5 587.9,95 588.4,95.6 588.8,96.1 589.2,96 589.6,96.3 590,96.4 590.4,96.4 590.8,96.4 591.2,96.2 591.6,96.1 592,95.9 592.4,95.4 592.8,94.4 593.2,94.5 593.7,94.9 594.1,95.3 594.5,94.6 594.9,94.1 595.3,93.9 595.7,94.9 596.1,95.7 596.5,96 596.9,95.9 597.3,96 597.7,95.9 598.1,96.3 598.5,97.1 599,97.9 599.4,97.7 599.8,97.1 600.2,96.9 600.6,96.7 601,97.3 601.4,96.8 601.8,96.2 602.2,95.9 602.6,96.5 603,96.1 603.4,95.4 603.8,95.6 604.2,95.9 604.7,95.8 605.1,96.2 605.5,97.2 605.9,97.8 606.3,96.9 606.7,95.7 607.1,95.4 607.5,95.4 607.9,95.4 608.3,95.6 608.7,96.5 609.1,97.2 609.5,97.1 610,96.3 610.4,95.6 610.8,96.2 611.2,97.4 611.6,97.4 612,96.7 612.4,96.6 612.8,96.8 613.2,96.3 613.6,95.6 614,95.9 614.4,96 614.8,96.2 615.2,96.7 615.7,97.5 616.1,96.8 616.5,95.5 616.9,95.2 617.3,95.9 617.7,96.4 618.1,96.1 618.5,95.8 618.9,95.7 619.3,96.2 619.7,96.9 620.1,97.5 620.5,98.5 621,98.5 621.4,98.2 621.8,97.4 622.2,97.3 622.6,97.4 623,97.7 623.4,97.4 623.8,96.9 624.2,97.1 624.6,97.6 625,97.5 625.4,96.9 625.8,96.6 626.3,96.9 626.7,96.8 627.1,96.7 627.5,95.9 627.9,96 628.3,96.7 628.7,97 629.1,96.6 629.5,96.8 629.9,97.4 630.3,98 630.7,97.9 631.1,97.7 631.5,96.9 632,97.3 632.4,97 632.8,96.7 633.2,96.6 633.6,97 634,97.3 634.4,97.5 634.8,98.1 635.2,98.4 635.6,98.2 636,97.5 636.4,96.8 636.8,97.1 637.3,97.4 637.7,97.8 638.1,97.6 638.5,97.1 638.9,96.5 639.3,96.3 639.7,96.7" fill="none" stroke="#1a1a1a" stroke-width="1.0" stroke-linejoin="round" />
<polyline points="493,108 493.4,108.5 493.8,108.2 494.2,107 494.6,106.9 495,106.6 495.4,106.4 495.9,105.8 496.3,106.7 496.7,107.1 497.1,106.3 497.5,105 497.9,104.7 498.3,104.7 498.7,105.7 499.1,106.7 499.5,108.1 499.9,108.5 500.3,108.2 500.7,107.3 501.2,107.3 501.6,107.1 502,106.9 502.4,106.7 502.8,107.5 503.2,106.6 503.6,105.9 504,106.2 504.4,107.6 504.8,106.9 505.2,106.4 505.6,105.8 506,105.8 506.4,106.4 506.9,106.9 507.3,107 507.7,106.8 508.1,107.6 508.5,107.3 508.9,106.5 509.3,106.1 509.7,105.6 510.1,104.4 510.5,102.7 510.9,100.7 511.3,99.8 511.7,98.9 512.2,97.8 512.6,97 513,96.8 513.4,96.6 513.8,95.9 514.2,95.2 514.6,95.3 515,95.3 515.4,94.6 515.8,93.9 516.2,94.1 516.6,92.9 517,91.4 517.5,90.8 517.9,90.6 518.3,89.7 518.7,89.4 519.1,89.3 519.5,88.7 519.9,88 520.3,87.2 520.7,85.8 521.1,84.8 521.5,83.9 521.9,83.6 522.3,83.1 522.7,83.1 523.2,83.1 523.6,83 524,82.6 524.4,82.6 524.8,82.3 525.2,81.5 525.6,80.6 526,80.8 526.4,81.9 526.8,81.4 527.2,80.4 527.6,80.1 528,80.4 528.5,80 528.9,78.7 529.3,78.6 529.7,77.7 530.1,77.4 530.5,77.1 530.9,77.3 531.3,76.6 531.7,76.9 532.1,76.6 532.5,76.3 532.9,75.8 533.3,76.3 533.8,76.4 534.2,76 534.6,75.4 535,75.2 535.4,75 535.8,74.6 536.2,73.8 536.6,73.4 537,73.5 537.4,73.5 537.8,72.9 538.2,72.5 538.6,73 539,73.9 539.5,73.5 539.9,73.5 540.3,73.6 540.7,74.4 541.1,74.7 541.5,74.8 541.9,74.4 542.3,74.1 542.7,73.1 543.1,72.6 543.5,73 543.9,73.2 544.3,72.6 544.8,72.6 545.2,72.7 545.6,72.9 546,72.7 546.4,72.9 546.8,72.1 547.2,71.9 547.6,71.8 548,72 548.4,71.1 548.8,71 549.2,71.7 549.6,72.1 550,72.4 550.5,71.9 550.9,72 551.3,72.6 551.7,73.5 552.1,74.2 552.5,74.1 552.9,73.5 553.3,73.4 553.7,74.3 554.1,74.2 554.5,74.4 554.9,74.8 555.3,75.8 555.8,76.1 556.2,76.2 556.6,75.6 557,75.3 557.4,75.9 557.8,76.5 558.2,77.4 558.6,77.7 559,78 559.4,78.1 559.8,78.1 560.2,77.2 560.6,77.2 561.1,77.3 561.5,76.9 561.9,76.5 562.3,77.3 562.7,78.1 563.1,78.5 563.5,79 563.9,79 564.3,78.5 564.7,78.4 565.1,79.1 565.5,79.8 565.9,80 566.4,80.4 566.8,80.9 567.2,80.4 567.6,79.9 568,79.6 568.4,79.3 568.8,79.2 569.2,79.4 569.6,80.6 570,81.1 570.4,81 570.8,80.5 571.2,81 571.6,82.2 572.1,82 572.5,81.7 572.9,81 573.3,80.9 573.7,80.8 574.1,81.3 574.5,81.2 574.9,81 575.3,81.5 575.7,81.9 576.1,81.9 576.5,81.8 576.9,81.8 577.4,81.5 577.8,81.1 578.2,81.4 578.6,81.9 579,82.6 579.4,82.4 579.8,82.5 580.2,82.7 580.6,83.2 581,83.3 581.4,83.3 581.8,82 582.2,81.5 582.6,81.8 583.1,82.7 583.5,82.7 583.9,82.9 584.3,82.2 584.7,82 585.1,81.7 585.5,82 585.9,82.4 586.3,83.6 586.7,84.1 587.1,84.2 587.5,83.6 587.9,83 588.4,82.5 588.8,83.4 589.2,83.6 589.6,83.9 590,82.7 590.4,82.6 590.8,82.6 591.2,83.4 591.6,83.6 592,84 592.4,84.4 592.8,83.9 593.2,83.9 593.7,84 594.1,84.2 594.5,84 594.9,84.7 595.3,85.4 595.7,85.4 596.1,85.2 596.5,84.5 596.9,84.1 597.3,83.9 597.7,84.7 598.1,84.6 598.5,84.6 599,84.7 599.4,85.3 599.8,84.2 600.2,83.7 600.6,84.2 601,84.8 601.4,84 601.8,83.8 602.2,83.9 602.6,84.6 603,85.1 603.4,86.2 603.8,85.2 604.2,84.6 604.7,83.2 605.1,83.2 605.5,83.4 605.9,84.9 606.3,85.7 606.7,86.2 607.1,85.3 607.5,85.1 607.9,86.1 608.3,86.3 608.7,85.2 609.1,84.6 609.5,85 610,84.8 610.4,83.9 610.8,84.7 611.2,85.5 611.6,86.1 612,85.2 612.4,85 612.8,85.3 613.2,85.9 613.6,85.5 614,85.6 614.4,86.5 614.8,87 615.2,86.4 615.7,86.1 616.1,86.6 616.5,87.3 616.9,87.1 617.3,86 617.7,85.7 618.1,85.8 618.5,85.1 618.9,84.6 619.3,85.1 619.7,86.2 620.1,86 620.5,85.6 621,85.2 621.4,85.6 621.8,85.6 622.2,85.4 622.6,85.4 623,85.1 623.4,85.8 623.8,85.8 624.2,86 624.6,85.2 625,84.6 625.4,84.4 625.8,85 626.3,85.8 626.7,85.3 627.1,84.4 627.5,84.3 627.9,84.8 628.3,84.7 628.7,84.4 629.1,85.4 629.5,86.7 629.9,87 630.3,86.3 630.7,86 631.1,85.4 631.5,85.5 632,84.9 632.4,85.5 632.8,85.1 633.2,85.4 633.6,84.7 634,84.3 634.4,83.6 634.8,83.8 635.2,85 635.6,86.2 636,87.9 636.4,87.4 636.8,85.9 637.3,84.3 637.7,85.3 638.1,85 638.5,85.2 638.9,84.9 639.3,86.4 639.7,86.5" fill="none" stroke="#f59a3c" stroke-width="1.0" stroke-linejoin="round" />
<polyline points="493,105.9 493.4,106.5 493.8,106.4 494.2,106.6 494.6,106.4 495,107.5 495.4,108 495.9,107.8 496.3,107 496.7,106.2 497.1,105.8 497.5,106.9 497.9,108.1 498.3,107.7 498.7,106.2 499.1,104.7 499.5,104.7 499.9,105.6 500.3,106.3 500.7,106.2 501.2,105.8 501.6,106.7 502,107.1 502.4,107.1 502.8,106.5 503.2,106.3 503.6,105.7 504,106.2 504.4,106.3 504.8,106.6 505.2,106.6 505.6,107.5 506,107.3 506.4,106.5 506.9,106.1 507.3,106.5 507.7,106.9 508.1,106.9 508.5,107.1 508.9,106.9 509.3,106.5 509.7,104.1 510.1,101.9 510.5,100.5 510.9,98.8 511.3,97.7 511.7,95.7 512.2,93.6 512.6,91.4 513,89.9 513.4,87.9 513.8,85.5 514.2,84.4 514.6,83.4 515,83.1 515.4,82 515.8,81.1 516.2,79.1 516.6,78 517,77.3 517.5,76.2 517.9,74.9 518.3,74 518.7,72.8 519.1,71 519.5,69.9 519.9,69.4 520.3,69 520.7,68.3 521.1,67.9 521.5,67.5 521.9,66.5 522.3,65.4 522.7,64.4 523.2,64 523.6,63.1 524,61.8 524.4,61.3 524.8,61.4 525.2,61.4 525.6,61 526,60 526.4,59 526.8,57.9 527.2,58.1 527.6,57.8 528,57.2 528.5,56.5 528.9,56.6 529.3,57.5 529.7,57.1 530.1,56.5 530.5,56 530.9,55.8 531.3,54.9 531.7,55 532.1,55.3 532.5,55.1 532.9,53.9 533.3,54.2 533.8,54.4 534.2,54.5 534.6,52.8 535,52.7 535.4,54 535.8,55.2 536.2,54.2 536.6,52.3 537,50.8 537.4,50.4 537.8,51.1 538.2,51.4 538.6,51.2 539,51 539.5,51.2 539.9,50.5 540.3,50.5 540.7,51.1 541.1,51.5 541.5,50.9 541.9,50.7 542.3,51.1 542.7,50.8 543.1,49.6 543.5,48.8 543.9,48.6 544.3,48.6 544.8,49.5 545.2,50.8 545.6,51.4 546,50.9 546.4,50.7 546.8,50.3 547.2,50.1 547.6,50 548,50.7 548.4,50.7 548.8,51 549.2,50.5 549.6,50.6 550,51.2 550.5,51.5 550.9,52 551.3,52.4 551.7,52.4 552.1,53.2 552.5,54.4 552.9,55.6 553.3,55.8 553.7,55.3 554.1,55.1 554.5,55.5 554.9,56.2 555.3,55.9 555.8,56.1 556.2,56 556.6,56.9 557,57.6 557.4,58.1 557.8,57.4 558.2,57.9 558.6,58.7 559,59.4 559.4,59 559.8,58.8 560.2,59.1 560.6,59.7 561.1,60.2 561.5,60.2 561.9,60.6 562.3,60.9 562.7,61 563.1,60.9 563.5,60.7 563.9,60.6 564.3,61 564.7,62.2 565.1,63.2 565.5,63.1 565.9,62.6 566.4,62.3 566.8,62.2 567.2,62.4 567.6,63 568,63.9 568.4,63.7 568.8,63.7 569.2,64 569.6,65.2 570,65.4 570.4,64.4 570.8,63.5 571.2,64.3 571.6,65.5 572.1,65.6 572.5,64.7 572.9,64.6 573.3,65.2 573.7,65.5 574.1,65.9 574.5,66.8 574.9,67.6 575.3,67.6 575.7,66.4 576.1,65.6 576.5,65.8 576.9,66.5 577.4,66.9 577.8,67.2 578.2,68.4 578.6,68.6 579,67.8 579.4,67.3 579.8,68.6 580.2,69 580.6,68.8 581,68.2 581.4,68.5 581.8,68.7 582.2,68.3 582.6,68 583.1,68 583.5,68.2 583.9,68.2 584.3,68.7 584.7,69.2 585.1,69.3 585.5,69.5 585.9,69.9 586.3,69.5 586.7,69 587.1,68.4 587.5,67.6 587.9,67.5 588.4,68.2 588.8,68.1 589.2,67.9 589.6,68.9 590,70 590.4,70.5 590.8,70.9 591.2,70.7 591.6,70.1 592,69.6 592.4,69.5 592.8,69.6 593.2,70 593.7,70.3 594.1,70.4 594.5,70.7 594.9,70.6 595.3,70.3 595.7,69.9 596.1,69.6 596.5,69.1 596.9,69.7 597.3,70.8 597.7,71.4 598.1,70.8 598.5,70.1 599,70.3 599.4,70.9 599.8,71.1 600.2,70.2 600.6,69.3 601,69.9 601.4,70.8 601.8,71.7 602.2,71 602.6,70.6 603,70.5 603.4,71.2 603.8,71.4 604.2,70.7 604.7,70.8 605.1,71.3 605.5,71.6 605.9,71.3 606.3,71.1 606.7,71.5 607.1,72 607.5,72.9 607.9,72.8 608.3,71.8 608.7,71.7 609.1,72.4 609.5,72.4 610,71.4 610.4,72.1 610.8,72.3 611.2,72.4 611.6,71.4 612,71.8 612.4,71.8 612.8,72.4 613.2,72.1 613.6,71.6 614,71.4 614.4,71.5 614.8,71.3 615.2,71 615.7,71 616.1,71.6 616.5,71.9 616.9,72.1 617.3,71.9 617.7,71.6 618.1,71.7 618.5,71.6 618.9,71.8 619.3,71.8 619.7,71.8 620.1,72.1 620.5,72.7 621,72.3 621.4,72 621.8,71.8 622.2,72.7 622.6,72.4 623,73.2 623.4,73.2 623.8,73.5 624.2,73.3 624.6,72.7 625,72 625.4,71.4 625.8,71.8 626.3,71.6 626.7,71.4 627.1,71.4 627.5,72.6 627.9,73 628.3,72.6 628.7,72.2 629.1,72.3 629.5,72.2 629.9,72.3 630.3,72.6 630.7,72.6 631.1,72.4 631.5,72.8 632,73.3 632.4,73.4 632.8,72.6 633.2,71.3 633.6,71.4 634,72.8 634.4,74 634.8,74.1 635.2,74 635.6,73.6 636,73.6 636.4,73.4 636.8,73 637.3,72 637.7,71.4 638.1,71.3 638.5,71.2 638.9,72 639.3,72.7 639.7,73.5" fill="none" stroke="#b034ec" stroke-width="1.0" stroke-linejoin="round" />
<text transform="translate(-0.6,181.2) scale(1.04,1)" font-size="29.5" font-weight="bold" fill="#000">d</text>
<text transform="translate(31.9,229.2) rotate(-90)" font-size="10.35" fill="#1a1a1a">EGCG oligomer</text>
<text transform="translate(53,229.2) rotate(-90)" font-size="10.35" fill="#1a1a1a">Nitrated aSN</text>
<text transform="translate(73.5,229.2) rotate(-90)" font-size="10.35" fill="#1a1a1a">ONE oligomer</text>
<text transform="translate(94.6,229.2) rotate(-90)" font-size="10.35" fill="#1a1a1a">Monomer</text>
<text transform="translate(115,229.2) rotate(-90)" font-size="10.35" fill="#1a1a1a">Oligomer</text>
<text transform="translate(140.5,229.2) rotate(-90)" font-size="10.35" fill="#1a1a1a">EGCG oligomer</text>
<text transform="translate(161.5,229.2) rotate(-90)" font-size="10.35" fill="#1a1a1a">Nitrated aSN</text>
<text transform="translate(182.4,229.2) rotate(-90)" font-size="10.35" fill="#1a1a1a">ONE oligomer</text>
<text transform="translate(203.4,229.2) rotate(-90)" font-size="10.35" fill="#1a1a1a">Monomer</text>
<text transform="translate(224.3,229.2) rotate(-90)" font-size="10.35" fill="#1a1a1a">Oligomer</text>
<text transform="translate(270.8,238.6) rotate(-90)" font-size="10.4" fill="#1a1a1a">EGCG oligomer</text>
<text transform="translate(291.8,238.6) rotate(-90)" font-size="10.4" fill="#1a1a1a">(Other sample)</text>
<text transform="translate(311.8,238.6) rotate(-90)" font-size="10.4" fill="#1a1a1a">Nitrated aSN</text>
<text transform="translate(333.6,238.6) rotate(-90)" font-size="10.4" fill="#1a1a1a">ONE oligomer</text>
<text transform="translate(353.9,238.6) rotate(-90)" font-size="10.4" fill="#1a1a1a">Monomer</text>
<text transform="translate(375.6,238.6) rotate(-90)" font-size="10.4" fill="#1a1a1a">Oligomer</text>
<defs><linearGradient id="bl1" x1="0" y1="0" x2="0" y2="1"><stop offset="0" stop-color="rgb(152,173,179)"/><stop offset="0.16" stop-color="rgb(148,168,172)"/><stop offset="0.4" stop-color="rgb(140,159,164)"/><stop offset="0.57" stop-color="rgb(131,149,153)"/><stop offset="1" stop-color="rgb(122,138,137)"/></linearGradient><linearGradient id="bl2" x1="0" y1="0" x2="0" y2="1"><stop offset="0" stop-color="rgb(152,169,172)"/><stop offset="0.07" stop-color="rgb(150,167,170)"/><stop offset="0.25" stop-color="rgb(136,152,153)"/><stop offset="0.33" stop-color="rgb(128,144,144)"/><stop offset="0.57" stop-color="rgb(125,142,142)"/><stop offset="1" stop-color="rgb(108,122,122)"/></linearGradient><linearGradient id="gel" x1="0" y1="0" x2="0" y2="1"><stop offset="0" stop-color="rgb(87,103,125)"/><stop offset="0.3" stop-color="rgb(90,107,130)"/><stop offset="0.55" stop-color="rgb(94,112,135)"/><stop offset="1" stop-color="rgb(80,97,118)"/></linearGradient><linearGradient id="lane1" x1="0" y1="0" x2="0" y2="1"><stop offset="0" stop-color="rgb(15,40,90)"/><stop offset="0.04" stop-color="rgb(30,65,110)"/><stop offset="0.1" stop-color="rgb(40,78,118)"/><stop offset="0.25" stop-color="rgb(35,70,112)"/><stop offset="0.4" stop-color="rgb(28,62,112)"/><stop offset="0.48" stop-color="rgb(12,50,110)"/><stop offset="0.55" stop-color="rgb(25,60,110)"/><stop offset="0.62" stop-color="rgb(55,85,118)"/><stop offset="0.72" stop-color="rgb(40,72,115)"/><stop offset="0.8" stop-color="rgb(12,40,100)"/><stop offset="1" stop-color="rgb(5,28,88)"/></linearGradient><filter id="b1" x="-50%" y="-50%" width="200%" height="200%"><feGaussianBlur stdDeviation="0.7"/></filter><filter id="b15" x="-50%" y="-50%" width="200%" height="200%"><feGaussianBlur stdDeviation="1.2"/></filter><filter id="b2" x="-50%" y="-50%" width="200%" height="200%"><feGaussianBlur stdDeviation="2.5"/></filter><filter id="b3" x="-50%" y="-50%" width="200%" height="200%"><feGaussianBlur stdDeviation="5"/></filter><clipPath id="c1"><rect x="16.2" y="234.1" width="104.8" height="167.9"/></clipPath><clipPath id="c2"><rect x="131.8" y="234.1" width="100" height="167.9"/></clipPath><clipPath id="cg"><rect x="261" y="251.7" width="118" height="141.3"/></clipPath></defs>
<rect x="16.2" y="234.1" width="104.8" height="167.9" fill="url(#bl1)"/>
<g clip-path="url(#c1)">
<ellipse cx="106" cy="285" rx="16" ry="50" fill="rgb(160,180,185)" opacity="0.35" filter="url(#b3)"/>
<path d="M86,238 C89,260 90,290 86,310 C83,322 79,330 76,336" fill="none" stroke="rgb(110,132,138)" stroke-width="2.2" opacity="0.4" filter="url(#b15)"/>
<ellipse cx="78" cy="328" rx="4" ry="6" fill="rgb(110,155,165)" opacity="0.3" filter="url(#b2)"/>
</g>
<rect x="16.2" y="234.1" width="104.8" height="1.1" fill="rgb(130,150,156)"/>
<rect x="101" y="258" width="13.7" height="3.0" rx="1.4" fill="rgb(80,140,155)" filter="url(#b1)"/>
<rect x="102" y="258.8" width="12" height="1.5" fill="rgb(60,130,148)" opacity="0.6" filter="url(#b1)"/>
<text x="32.4" y="388.3" font-size="13" font-weight="normal" text-anchor="start" fill="#111" >NB1</text>
<rect x="131.8" y="234.1" width="100" height="167.9" fill="url(#bl2)"/>
<g clip-path="url(#c2)">
<path d="M166,234 C168,240 172,246 178,252 C183,254 186,248 190,246 C198,243 206,244 214,241 C222,238 228,240 232,238 L232,234 Z" fill="rgb(170,185,187)" opacity="0.5" filter="url(#b2)"/>
<path d="M178,252 C172,246 168,240 167,234" fill="none" stroke="rgb(120,138,140)" stroke-width="1.2" opacity="0.5" filter="url(#b1)"/>
<path d="M140,234 C150,240 158,246 162,258" fill="none" stroke="rgb(165,180,182)" stroke-width="4" opacity="0.35" filter="url(#b2)"/>
</g>
<rect x="131.8" y="234.1" width="100" height="1.1" fill="rgb(130,146,148)"/>
<rect x="138" y="259.6" width="22" height="1.6" rx="0.8" fill="rgb(90,145,155)" opacity="0.35" filter="url(#b1)"/>
<rect x="156" y="259.3" width="12" height="2.0" rx="1" fill="rgb(80,140,152)" opacity="0.75" filter="url(#b1)"/>
<rect x="214.5" y="259.9" width="14" height="3.2" rx="1.5" fill="rgb(70,135,150)" filter="url(#b1)"/>
<rect x="216" y="260.6" width="11.5" height="1.6" fill="rgb(50,125,145)" opacity="0.7" filter="url(#b1)"/>
<text x="138.2" y="388.1" font-size="13" font-weight="normal" text-anchor="start" fill="#111" >NB2</text>
<text x="235.3" y="260.6" font-size="10.7" font-weight="normal" text-anchor="start" fill="#222" >250</text>
<rect x="232.8" y="262.3" width="24.9" height="1.5" fill="#2f6f9a"/>
<text x="235.3" y="279.9" font-size="10.7" font-weight="normal" text-anchor="start" fill="#222" >70</text>
<rect x="232.8" y="280.9" width="24.9" height="1.5" fill="#2f6f9a"/>
<text x="235.3" y="298.9" font-size="10.7" font-weight="normal" text-anchor="start" fill="#222" >55</text>
<rect x="232.8" y="300.6" width="24.9" height="1.5" fill="#2f6f9a"/>
<text x="235.3" y="324.4" font-size="10.7" font-weight="normal" text-anchor="start" fill="#222" >35</text>
<rect x="232.8" y="326.8" width="24.9" height="1.5" fill="#2f6f9a"/>
<text x="235.3" y="343.1" font-size="10.7" font-weight="normal" text-anchor="start" fill="#222" >25</text>
<rect x="232.8" y="345.5" width="24.9" height="1.5" fill="#2f6f9a"/>
<text x="235.3" y="382.8" font-size="10.7" font-weight="normal" text-anchor="start" fill="#222" >15</text>
<rect x="232.8" y="383.6" width="24.9" height="1.5" fill="#2f6f9a"/>
<rect x="261" y="251.7" width="118" height="141.3" fill="url(#gel)"/>
<g clip-path="url(#cg)">
<ellipse cx="352" cy="342" rx="13" ry="14" fill="rgb(115,135,152)" opacity="0.55" filter="url(#b3)"/>
<rect x="261" y="330" width="50" height="63" fill="rgb(70,88,110)" opacity="0.45" filter="url(#b3)"/>
<path d="M261,252.5 L274,252.5 L275,300 L277,320 L279,345 L280.5,372 C278,375.5 266,375.5 262,373.5 Z" fill="url(#lane1)" filter="url(#b1)"/>
<path d="M263.5,282.5 C268,287 274,294 279,300 C282,304 284.5,309 285,312.5" fill="none" stroke="rgb(150,165,185)" stroke-width="1.6" stroke-linecap="round" opacity="0.9" filter="url(#b1)"/>
<path d="M276,253 L379,253 L379,258 C370,256 360,259 350,256 C340,258 330,255 318,257 C300,256 290,258 276,256 Z" fill="rgb(125,140,160)" opacity="0.55" filter="url(#b1)"/>
<rect x="261" y="251.7" width="118" height="1.6" fill="rgb(50,70,105)" opacity="0.85"/>
</g>
<rect x="282.6" y="279.9" width="13.4" height="2.8" rx="1.4" fill="rgb(20,58,105)" opacity="1" filter="url(#b1)"/>
<rect x="321.3" y="255.4" width="14.5" height="3" rx="1.5" fill="rgb(5,15,75)" opacity="1" filter="url(#b1)"/>
<rect x="363.8" y="256.5" width="14.6" height="2.8" rx="1.4" fill="rgb(6,18,80)" opacity="1" filter="url(#b1)"/>
<rect x="304.2" y="320.3" width="14.5" height="3.6" rx="1.8" fill="rgb(22,60,110)" opacity="1" filter="url(#b1)"/>
<rect x="304.8" y="296.5" width="12" height="2" rx="1" fill="rgb(60,92,130)" opacity="0.7" filter="url(#b1)"/>
<rect x="305.8" y="369.9" width="18.7" height="9.2" rx="4.6" fill="rgb(12,42,100)" opacity="1" filter="url(#b1)"/>
<rect x="307.5" y="371" width="15" height="6" rx="3" fill="rgb(5,28,88)" opacity="0.8" filter="url(#b15)"/>
<path d="M348,378 C350,372 360,374 366,377 C372,379 374,384 372,389 C368,393 356,393 351,390 C347,387 347,382 348,378 Z" fill="rgb(10,35,100)" filter="url(#b1)"/>
<ellipse cx="361" cy="384.5" rx="9" ry="5.5" fill="rgb(0,6,70)" opacity="0.9" filter="url(#b15)"/>
<rect x="364" y="267" width="14.5" height="2.1" rx="1.1" fill="rgb(45,85,125)" opacity="0.3" filter="url(#b1)"/>
<rect x="364" y="279.3" width="14.5" height="2.1" rx="1.1" fill="rgb(45,85,125)" opacity="0.35" filter="url(#b1)"/>
<rect x="364" y="297.6" width="14.5" height="2.1" rx="1.1" fill="rgb(45,85,125)" opacity="0.45" filter="url(#b1)"/>
<rect x="364" y="304" width="14.5" height="2.1" rx="1.1" fill="rgb(45,85,125)" opacity="0.45" filter="url(#b1)"/>
<rect x="364" y="312.9" width="14.5" height="2.1" rx="1.1" fill="rgb(45,85,125)" opacity="0.7" filter="url(#b1)"/>
<text transform="translate(439.8,180.5) scale(1.05,1)" font-size="29.3" font-weight="bold" fill="#000">e</text>
<line x1="455.3" y1="221.4" x2="455.3" y2="362.2" stroke="#111" stroke-width="1.5" />
<line x1="454.6" y1="361.6" x2="668.3" y2="361.6" stroke="#111" stroke-width="1.5" />
<line x1="450.1" y1="361.6" x2="455.3" y2="361.6" stroke="#111" stroke-width="1.3" />
<text x="447.6" y="365.1" font-size="10.4" font-weight="bold" text-anchor="end" fill="#111" >0.0</text>
<line x1="450.1" y1="333.6" x2="455.3" y2="333.6" stroke="#111" stroke-width="1.3" />
<text x="447.6" y="337.1" font-size="10.4" font-weight="bold" text-anchor="end" fill="#111" >0.2</text>
<line x1="450.1" y1="305.6" x2="455.3" y2="305.6" stroke="#111" stroke-width="1.3" />
<text x="447.6" y="309.1" font-size="10.4" font-weight="bold" text-anchor="end" fill="#111" >0.4</text>
<line x1="450.1" y1="277.7" x2="455.3" y2="277.7" stroke="#111" stroke-width="1.3" />
<text x="447.6" y="281.2" font-size="10.4" font-weight="bold" text-anchor="end" fill="#111" >0.6</text>
<line x1="450.1" y1="249.7" x2="455.3" y2="249.7" stroke="#111" stroke-width="1.3" />
<text x="447.6" y="253.2" font-size="10.4" font-weight="bold" text-anchor="end" fill="#111" >0.8</text>
<line x1="450.1" y1="221.7" x2="455.3" y2="221.7" stroke="#111" stroke-width="1.3" />
<text x="447.6" y="225.2" font-size="10.4" font-weight="bold" text-anchor="end" fill="#111" >1.0</text>
<line x1="490" y1="361.6" x2="490" y2="366.8" stroke="#111" stroke-width="1.3" />
<text x="490" y="379.2" font-size="10.1" font-weight="bold" text-anchor="middle" fill="#111" >0.1</text>
<line x1="539.1" y1="361.6" x2="539.1" y2="366.8" stroke="#111" stroke-width="1.3" />
<text x="539.1" y="379.2" font-size="10.1" font-weight="bold" text-anchor="middle" fill="#111" >1</text>
<line x1="588.2" y1="361.6" x2="588.2" y2="366.8" stroke="#111" stroke-width="1.3" />
<text x="588.2" y="379.2" font-size="10.1" font-weight="bold" text-anchor="middle" fill="#111" >10</text>
<line x1="637.3" y1="361.6" x2="637.3" y2="366.8" stroke="#111" stroke-width="1.3" />
<text x="637.3" y="379.2" font-size="10.1" font-weight="bold" text-anchor="middle" fill="#111" >100</text>
<text x="561.2" y="396.6" font-size="11.7" font-weight="bold" text-anchor="middle" fill="#111" >Molar ratio NB:αSO</text>
<text transform="translate(426.3,291) rotate(-90)" font-size="11.6" font-weight="bold" text-anchor="middle" fill="#111">Relative calcein release</text>
<polyline points="465.2,297.2 480,295.8 494.8,295.8 509.5,295.8 524.3,295.8 539.1,297.2 553.9,298.6 568.7,302.8 583.4,309.8 598.2,309.8 613,307 662.8,283.3" fill="none" stroke="#ff3030" stroke-width="0.95" stroke-linejoin="round" />
<polyline points="465.2,293 480,294.4 494.8,295.8 509.5,294.4 524.3,294.4 539.1,295.1 553.9,298.6 568.7,302.8 583.4,305.6 598.2,301.4 613,290.3 662.8,255.3" fill="none" stroke="#3030ff" stroke-width="0.95" stroke-linejoin="round" />
<line x1="465.2" y1="305.6" x2="465.2" y2="288.9" stroke="#ff2a2a" stroke-width="0.9" />
<line x1="463" y1="305.6" x2="467.4" y2="305.6" stroke="#ff2a2a" stroke-width="0.9" />
<line x1="463" y1="288.9" x2="467.4" y2="288.9" stroke="#ff2a2a" stroke-width="0.9" />
<circle cx="465.2" cy="297.2" r="3.3" fill="#ff0000"/>
<line x1="480" y1="301.4" x2="480" y2="290.3" stroke="#ff2a2a" stroke-width="0.9" />
<line x1="477.8" y1="301.4" x2="482.2" y2="301.4" stroke="#ff2a2a" stroke-width="0.9" />
<line x1="477.8" y1="290.3" x2="482.2" y2="290.3" stroke="#ff2a2a" stroke-width="0.9" />
<circle cx="480" cy="295.8" r="3.3" fill="#ff0000"/>
<line x1="494.8" y1="302.8" x2="494.8" y2="288.9" stroke="#ff2a2a" stroke-width="0.9" />
<line x1="492.6" y1="302.8" x2="497" y2="302.8" stroke="#ff2a2a" stroke-width="0.9" />
<line x1="492.6" y1="288.9" x2="497" y2="288.9" stroke="#ff2a2a" stroke-width="0.9" />
<circle cx="494.8" cy="295.8" r="3.3" fill="#ff0000"/>
<line x1="509.5" y1="302.8" x2="509.5" y2="288.9" stroke="#ff2a2a" stroke-width="0.9" />
<line x1="507.3" y1="302.8" x2="511.7" y2="302.8" stroke="#ff2a2a" stroke-width="0.9" />
<line x1="507.3" y1="288.9" x2="511.7" y2="288.9" stroke="#ff2a2a" stroke-width="0.9" />
<circle cx="509.5" cy="295.8" r="3.3" fill="#ff0000"/>
<line x1="524.3" y1="302.8" x2="524.3" y2="288.9" stroke="#ff2a2a" stroke-width="0.9" />
<line x1="522.1" y1="302.8" x2="526.5" y2="302.8" stroke="#ff2a2a" stroke-width="0.9" />
<line x1="522.1" y1="288.9" x2="526.5" y2="288.9" stroke="#ff2a2a" stroke-width="0.9" />
<circle cx="524.3" cy="295.8" r="3.3" fill="#ff0000"/>
<line x1="539.1" y1="302.8" x2="539.1" y2="291.7" stroke="#ff2a2a" stroke-width="0.9" />
<line x1="536.9" y1="302.8" x2="541.3" y2="302.8" stroke="#ff2a2a" stroke-width="0.9" />
<line x1="536.9" y1="291.7" x2="541.3" y2="291.7" stroke="#ff2a2a" stroke-width="0.9" />
<circle cx="539.1" cy="297.2" r="3.3" fill="#ff0000"/>
<line x1="553.9" y1="302.8" x2="553.9" y2="294.4" stroke="#ff2a2a" stroke-width="0.9" />
<line x1="551.7" y1="302.8" x2="556.1" y2="302.8" stroke="#ff2a2a" stroke-width="0.9" />
<line x1="551.7" y1="294.4" x2="556.1" y2="294.4" stroke="#ff2a2a" stroke-width="0.9" />
<circle cx="553.9" cy="298.6" r="3.3" fill="#ff0000"/>
<line x1="568.7" y1="309.8" x2="568.7" y2="295.8" stroke="#ff2a2a" stroke-width="0.9" />
<line x1="566.5" y1="309.8" x2="570.9" y2="309.8" stroke="#ff2a2a" stroke-width="0.9" />
<line x1="566.5" y1="295.8" x2="570.9" y2="295.8" stroke="#ff2a2a" stroke-width="0.9" />
<circle cx="568.7" cy="302.8" r="3.3" fill="#ff0000"/>
<line x1="583.4" y1="314" x2="583.4" y2="305.6" stroke="#ff2a2a" stroke-width="0.9" />
<line x1="581.2" y1="314" x2="585.6" y2="314" stroke="#ff2a2a" stroke-width="0.9" />
<line x1="581.2" y1="305.6" x2="585.6" y2="305.6" stroke="#ff2a2a" stroke-width="0.9" />
<circle cx="583.4" cy="309.8" r="3.3" fill="#ff0000"/>
<line x1="598.2" y1="315.4" x2="598.2" y2="304.2" stroke="#ff2a2a" stroke-width="0.9" />
<line x1="596" y1="315.4" x2="600.4" y2="315.4" stroke="#ff2a2a" stroke-width="0.9" />
<line x1="596" y1="304.2" x2="600.4" y2="304.2" stroke="#ff2a2a" stroke-width="0.9" />
<circle cx="598.2" cy="309.8" r="3.3" fill="#ff0000"/>
<line x1="613" y1="311.2" x2="613" y2="302.8" stroke="#ff2a2a" stroke-width="0.9" />
<line x1="610.8" y1="311.2" x2="615.2" y2="311.2" stroke="#ff2a2a" stroke-width="0.9" />
<line x1="610.8" y1="302.8" x2="615.2" y2="302.8" stroke="#ff2a2a" stroke-width="0.9" />
<circle cx="613" cy="307" r="3.3" fill="#ff0000"/>
<line x1="662.8" y1="293" x2="662.8" y2="273.5" stroke="#ff2a2a" stroke-width="0.9" />
<line x1="660.6" y1="293" x2="665" y2="293" stroke="#ff2a2a" stroke-width="0.9" />
<line x1="660.6" y1="273.5" x2="665" y2="273.5" stroke="#ff2a2a" stroke-width="0.9" />
<circle cx="662.8" cy="283.3" r="3.3" fill="#ff0000"/>
<line x1="465.2" y1="297.2" x2="465.2" y2="288.9" stroke="#2a2aff" stroke-width="0.9" />
<line x1="463" y1="297.2" x2="467.4" y2="297.2" stroke="#2a2aff" stroke-width="0.9" />
<line x1="463" y1="288.9" x2="467.4" y2="288.9" stroke="#2a2aff" stroke-width="0.9" />
<circle cx="465.2" cy="293" r="3.3" fill="#0000ff"/>
<line x1="480" y1="298.6" x2="480" y2="290.3" stroke="#2a2aff" stroke-width="0.9" />
<line x1="477.8" y1="298.6" x2="482.2" y2="298.6" stroke="#2a2aff" stroke-width="0.9" />
<line x1="477.8" y1="290.3" x2="482.2" y2="290.3" stroke="#2a2aff" stroke-width="0.9" />
<circle cx="480" cy="294.4" r="3.3" fill="#0000ff"/>
<line x1="494.8" y1="302.8" x2="494.8" y2="288.9" stroke="#2a2aff" stroke-width="0.9" />
<line x1="492.6" y1="302.8" x2="497" y2="302.8" stroke="#2a2aff" stroke-width="0.9" />
<line x1="492.6" y1="288.9" x2="497" y2="288.9" stroke="#2a2aff" stroke-width="0.9" />
<circle cx="494.8" cy="295.8" r="3.3" fill="#0000ff"/>
<line x1="509.5" y1="300" x2="509.5" y2="288.9" stroke="#2a2aff" stroke-width="0.9" />
<line x1="507.3" y1="300" x2="511.7" y2="300" stroke="#2a2aff" stroke-width="0.9" />
<line x1="507.3" y1="288.9" x2="511.7" y2="288.9" stroke="#2a2aff" stroke-width="0.9" />
<circle cx="509.5" cy="294.4" r="3.3" fill="#0000ff"/>
<line x1="524.3" y1="301.4" x2="524.3" y2="287.5" stroke="#2a2aff" stroke-width="0.9" />
<line x1="522.1" y1="301.4" x2="526.5" y2="301.4" stroke="#2a2aff" stroke-width="0.9" />
<line x1="522.1" y1="287.5" x2="526.5" y2="287.5" stroke="#2a2aff" stroke-width="0.9" />
<circle cx="524.3" cy="294.4" r="3.3" fill="#0000ff"/>
<line x1="539.1" y1="300.7" x2="539.1" y2="289.6" stroke="#2a2aff" stroke-width="0.9" />
<line x1="536.9" y1="300.7" x2="541.3" y2="300.7" stroke="#2a2aff" stroke-width="0.9" />
<line x1="536.9" y1="289.6" x2="541.3" y2="289.6" stroke="#2a2aff" stroke-width="0.9" />
<circle cx="539.1" cy="295.1" r="3.3" fill="#0000ff"/>
<line x1="553.9" y1="302.8" x2="553.9" y2="294.4" stroke="#2a2aff" stroke-width="0.9" />
<line x1="551.7" y1="302.8" x2="556.1" y2="302.8" stroke="#2a2aff" stroke-width="0.9" />
<line x1="551.7" y1="294.4" x2="556.1" y2="294.4" stroke="#2a2aff" stroke-width="0.9" />
<circle cx="553.9" cy="298.6" r="3.3" fill="#0000ff"/>
<line x1="568.7" y1="305.6" x2="568.7" y2="300" stroke="#2a2aff" stroke-width="0.9" />
<line x1="566.5" y1="305.6" x2="570.9" y2="305.6" stroke="#2a2aff" stroke-width="0.9" />
<line x1="566.5" y1="300" x2="570.9" y2="300" stroke="#2a2aff" stroke-width="0.9" />
<circle cx="568.7" cy="302.8" r="3.3" fill="#0000ff"/>
<line x1="583.4" y1="309.8" x2="583.4" y2="301.4" stroke="#2a2aff" stroke-width="0.9" />
<line x1="581.2" y1="309.8" x2="585.6" y2="309.8" stroke="#2a2aff" stroke-width="0.9" />
<line x1="581.2" y1="301.4" x2="585.6" y2="301.4" stroke="#2a2aff" stroke-width="0.9" />
<circle cx="583.4" cy="305.6" r="3.3" fill="#0000ff"/>
<line x1="598.2" y1="305.6" x2="598.2" y2="297.2" stroke="#2a2aff" stroke-width="0.9" />
<line x1="596" y1="305.6" x2="600.4" y2="305.6" stroke="#2a2aff" stroke-width="0.9" />
<line x1="596" y1="297.2" x2="600.4" y2="297.2" stroke="#2a2aff" stroke-width="0.9" />
<circle cx="598.2" cy="301.4" r="3.3" fill="#0000ff"/>
<line x1="613" y1="297.2" x2="613" y2="283.3" stroke="#2a2aff" stroke-width="0.9" />
<line x1="610.8" y1="297.2" x2="615.2" y2="297.2" stroke="#2a2aff" stroke-width="0.9" />
<line x1="610.8" y1="283.3" x2="615.2" y2="283.3" stroke="#2a2aff" stroke-width="0.9" />
<circle cx="613" cy="290.3" r="3.3" fill="#0000ff"/>
<line x1="662.8" y1="263.7" x2="662.8" y2="246.9" stroke="#2a2aff" stroke-width="0.9" />
<line x1="660.6" y1="263.7" x2="665" y2="263.7" stroke="#2a2aff" stroke-width="0.9" />
<line x1="660.6" y1="246.9" x2="665" y2="246.9" stroke="#2a2aff" stroke-width="0.9" />
<circle cx="662.8" cy="255.3" r="3.3" fill="#0000ff"/>
<line x1="532" y1="238.2" x2="547.7" y2="238.2" stroke="#3030ff" stroke-width="0.95" />
<circle cx="540" cy="238.2" r="3.3" fill="#0000ff"/>
<line x1="532" y1="256.5" x2="547.7" y2="256.5" stroke="#ff3030" stroke-width="0.95" />
<circle cx="540" cy="256.5" r="3.3" fill="#ff0000"/>
<text x="555.6" y="242.5" font-size="12.2" font-weight="normal" text-anchor="start" fill="#111" >NB1</text>
<text x="555.6" y="260.8" font-size="12.2" font-weight="normal" text-anchor="start" fill="#111" >NB2</text>
</svg>
</body></html>
